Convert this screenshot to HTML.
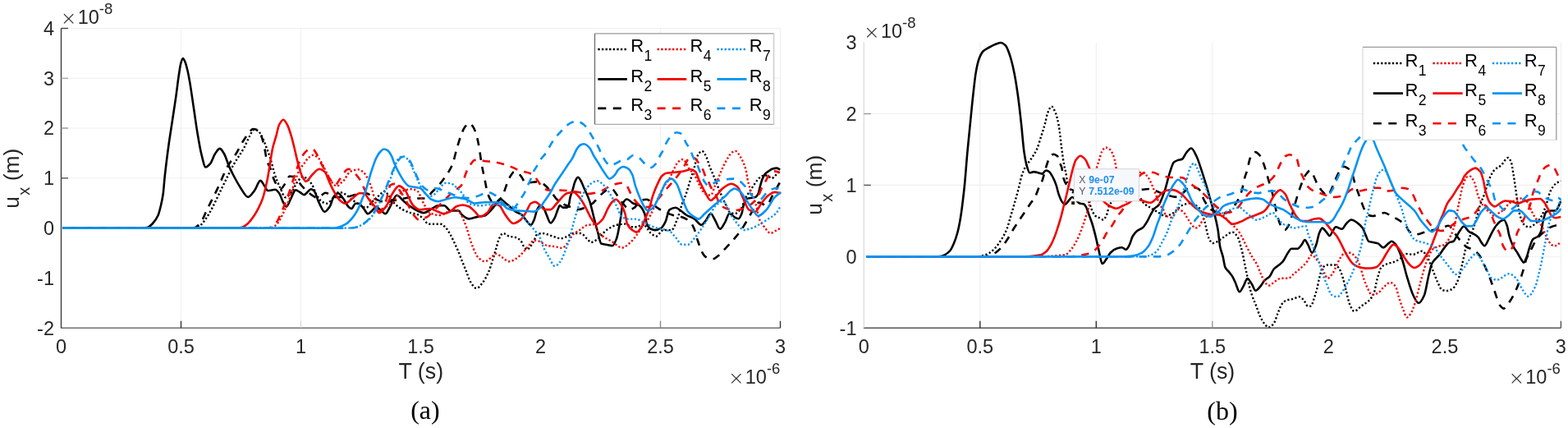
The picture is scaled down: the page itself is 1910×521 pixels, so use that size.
<!DOCTYPE html>
<html><head><meta charset="utf-8"><title>Figure</title>
<style>html,body{margin:0;padding:0;background:#fff;}svg{display:block;}</style>
</head><body>
<svg width="1910" height="521" viewBox="0 0 1910 521">
<rect width="1910" height="521" fill="#fff"/>
<line x1="220.5" y1="34.5" x2="220.5" y2="399.2" stroke="#efefef" stroke-width="1.1"/>
<line x1="366.5" y1="34.5" x2="366.5" y2="399.2" stroke="#efefef" stroke-width="1.1"/>
<line x1="804.5" y1="34.5" x2="804.5" y2="399.2" stroke="#efefef" stroke-width="1.1"/>
<line x1="950.5" y1="34.5" x2="950.5" y2="399.2" stroke="#efefef" stroke-width="1.1"/>
<line x1="74.5" y1="34.5" x2="950.5" y2="34.5" stroke="#efefef" stroke-width="1.1"/>
<line x1="74.5" y1="95.3" x2="950.5" y2="95.3" stroke="#efefef" stroke-width="1.1"/>
<line x1="74.5" y1="156.0" x2="950.5" y2="156.0" stroke="#efefef" stroke-width="1.1"/>
<line x1="74.5" y1="216.8" x2="950.5" y2="216.8" stroke="#efefef" stroke-width="1.1"/>
<line x1="74.5" y1="277.6" x2="950.5" y2="277.6" stroke="#efefef" stroke-width="1.1"/>
<path d="M76.50 277.60 C130.00 277.60 183.50 277.60 237.00 277.60 C238.33 277.60 239.67 277.22 241.00 276.80 C243.33 276.07 245.67 272.75 248.00 270.00 C250.27 267.32 252.53 263.61 254.80 259.80 C259.80 251.39 264.80 239.87 269.80 229.90 C274.80 219.93 279.80 208.89 284.80 200.00 C288.93 192.65 293.07 187.57 297.20 180.00 C299.47 175.85 301.73 170.06 304.00 166.00 C305.67 163.02 307.33 158.00 309.00 158.00 C310.67 158.00 312.33 158.42 314.00 159.00 C315.67 159.58 317.33 163.05 319.00 166.00 C320.90 169.37 322.80 175.00 324.70 180.00 C326.47 184.65 328.23 189.32 330.00 195.00 C331.57 200.04 333.13 207.71 334.70 212.40 C336.93 219.08 339.17 224.23 341.40 228.90 C343.47 233.22 345.53 240.20 347.60 240.20 C350.13 240.20 352.67 236.81 355.20 233.90 C357.30 231.49 359.40 225.32 361.50 222.60 C364.00 219.36 366.50 215.10 369.00 215.10 C370.67 215.10 372.33 216.44 374.00 217.60 C376.10 219.06 378.20 221.79 380.30 225.10 C381.97 227.73 383.63 233.50 385.30 236.40 C387.40 240.06 389.50 243.90 391.60 245.20 C393.70 246.50 395.80 247.70 397.90 247.70 C400.40 247.70 402.90 243.76 405.40 241.50 C407.93 239.21 410.47 233.90 413.00 233.90 C415.50 233.90 418.00 235.21 420.50 236.40 C422.60 237.40 424.70 239.91 426.80 241.50 C429.87 243.82 432.93 246.21 436.00 248.00 C439.23 249.88 442.47 252.80 445.70 252.80 C448.47 252.80 451.23 247.56 454.00 245.00 C456.67 242.53 459.33 239.96 462.00 237.70 C464.10 235.92 466.20 232.70 468.30 232.70 C469.97 232.70 471.63 235.79 473.30 237.70 C475.70 240.45 478.10 245.25 480.50 247.60 C483.87 250.90 487.23 253.27 490.60 255.10 C493.53 256.69 496.47 257.97 499.40 258.90 C502.73 259.96 506.07 260.08 509.40 261.40 C511.50 262.23 513.60 264.54 515.70 266.40 C517.80 268.26 519.90 272.70 522.00 272.70 C524.93 272.70 527.87 272.70 530.80 272.70 C532.90 272.70 535.00 272.70 537.10 272.70 C539.20 272.70 541.30 275.48 543.40 277.70 C545.07 279.46 546.73 282.42 548.40 285.30 C550.07 288.18 551.73 291.78 553.40 295.30 C554.87 298.39 556.33 301.65 557.80 305.10 C559.47 309.02 561.13 313.46 562.80 317.60 C564.50 321.82 566.20 325.96 567.90 330.20 C569.57 334.36 571.23 340.21 572.90 342.80 C575.40 346.68 577.90 350.90 580.40 350.90 C582.93 350.90 585.47 347.08 588.00 344.00 C590.50 340.96 593.00 336.01 595.50 330.20 C597.17 326.33 598.83 320.36 600.50 315.10 C601.77 311.10 603.03 306.79 604.30 302.60 C605.53 298.52 606.77 292.63 608.00 290.30 C609.63 287.21 611.27 284.00 612.90 284.00 C615.40 284.00 617.90 287.20 620.40 287.80 C622.93 288.41 625.47 288.35 628.00 289.00 C630.07 289.53 632.13 290.83 634.20 292.80 C635.53 294.07 636.87 298.41 638.20 300.10 C639.47 301.70 640.73 303.80 642.00 303.80 C643.67 303.80 645.33 300.90 647.00 298.80 C648.27 297.20 649.53 295.12 650.80 292.50 C651.57 290.92 652.33 287.03 653.10 286.50 C655.60 284.79 658.10 284.00 660.60 284.00 C664.37 284.00 668.13 286.05 671.90 287.10 C675.70 288.15 679.50 290.30 683.30 290.30 C685.80 290.30 688.30 288.81 690.80 287.80 C693.30 286.79 695.80 284.00 698.30 284.00 C701.23 284.00 704.17 284.00 707.10 284.00 C710.03 284.00 712.97 289.00 715.90 291.50 C717.27 292.67 718.63 295.00 720.00 295.00 C722.50 295.00 725.00 292.98 727.50 291.40 C731.27 289.01 735.03 282.63 738.80 280.10 C743.00 277.28 747.20 274.59 751.40 273.80 C754.77 273.17 758.13 272.60 761.50 272.60 C764.43 272.60 767.37 276.30 770.30 276.30 C772.37 276.30 774.43 276.30 776.50 276.30 C778.60 276.30 780.70 272.60 782.80 272.60 C786.17 272.60 789.53 281.37 792.90 283.90 C795.00 285.48 797.10 287.60 799.20 287.60 C802.13 287.60 805.07 280.10 808.00 280.10 C811.33 280.10 814.67 280.10 818.00 280.10 C820.53 280.10 823.07 271.31 825.60 265.00 C827.27 260.85 828.93 253.70 830.60 249.00 C832.27 244.30 833.93 241.14 835.60 236.40 C837.27 231.66 838.93 225.27 840.60 220.10 C841.87 216.17 843.13 212.77 844.40 208.80 C846.50 202.22 848.60 190.49 850.70 187.70 C852.17 185.75 853.63 183.90 855.10 183.90 C856.57 183.90 858.03 186.63 859.50 189.00 C861.17 191.70 862.83 198.56 864.50 202.80 C866.60 208.15 868.70 212.43 870.80 217.60 C872.90 222.77 875.00 228.92 877.10 233.90 C879.20 238.88 881.30 243.29 883.40 247.70 C885.07 251.20 886.73 256.81 888.40 257.80 C890.60 259.10 892.80 260.00 895.00 260.00 C897.83 260.00 900.67 256.78 903.50 252.80 C904.67 251.16 905.83 245.47 907.00 243.00 C908.13 240.60 909.27 239.01 910.40 237.20 C911.67 235.18 912.93 233.42 914.20 231.50 C915.47 229.58 916.73 227.55 918.00 225.70 C919.60 223.36 921.20 220.83 922.80 219.00 C924.10 217.52 925.40 215.97 926.70 215.20 C928.30 214.25 929.90 213.20 931.50 213.20 C932.77 213.20 934.03 213.74 935.30 214.20 C936.90 214.78 938.50 217.10 940.10 217.10 C941.07 217.10 942.03 215.97 943.00 215.20 C943.97 214.43 944.93 213.28 945.90 212.30 C947.17 211.02 948.43 209.70 949.70 208.40" fill="none" stroke="#000000" stroke-width="2.4" stroke-dasharray="2.2 2.5" stroke-linejoin="round"/>
<path d="M76.50 277.60 C109.33 277.60 142.17 277.60 175.00 277.60 C176.67 277.60 178.33 277.24 180.00 276.80 C182.00 276.28 184.00 274.07 186.00 272.00 C188.17 269.75 190.33 267.03 192.50 262.30 C193.67 259.75 194.83 254.93 196.00 250.00 C196.90 246.20 197.80 242.35 198.70 236.00 C199.37 231.29 200.03 221.20 200.70 215.00 C202.23 200.75 203.77 189.01 205.30 177.80 C206.83 166.59 208.37 157.33 209.90 147.10 C211.43 136.87 212.97 127.31 214.50 116.40 C215.53 109.05 216.57 99.84 217.60 93.00 C218.50 87.04 219.40 80.06 220.30 77.00 C221.13 74.17 221.97 71.00 222.80 71.00 C223.70 71.00 224.60 73.48 225.50 75.50 C226.50 77.74 227.50 81.81 228.50 86.00 C229.47 90.05 230.43 95.50 231.40 101.10 C232.93 109.99 234.47 121.57 236.00 131.80 C237.53 142.03 239.07 153.42 240.60 162.50 C242.13 171.58 243.67 180.94 245.20 187.00 C246.97 193.99 248.73 203.50 250.50 203.50 C252.33 203.50 254.17 201.32 256.00 199.30 C258.03 197.06 260.07 189.86 262.10 187.00 C263.97 184.37 265.83 180.90 267.70 180.90 C269.43 180.90 271.17 184.25 272.90 187.00 C274.93 190.23 276.97 197.82 279.00 202.40 C281.07 207.06 283.13 211.11 285.20 215.00 C287.57 219.45 289.93 223.90 292.30 227.40 C295.60 232.28 298.90 239.90 302.20 239.90 C304.80 239.90 307.40 235.30 310.00 232.00 C312.40 228.96 314.80 219.90 317.20 219.90 C318.80 219.90 320.40 223.87 322.00 226.00 C323.43 227.91 324.87 232.00 326.30 232.00 C329.23 232.00 332.17 230.80 335.10 230.80 C336.77 230.80 338.43 233.09 340.10 235.20 C341.77 237.31 343.43 243.76 345.10 246.50 C346.37 248.58 347.63 251.50 348.90 251.50 C350.57 251.50 352.23 245.66 353.90 242.70 C356.00 238.97 358.10 231.40 360.20 231.40 C361.87 231.40 363.53 232.97 365.20 233.90 C366.90 234.85 368.60 237.10 370.30 237.10 C373.23 237.10 376.17 230.20 379.10 230.20 C380.33 230.20 381.57 231.43 382.80 232.70 C384.50 234.45 386.20 241.77 387.90 245.20 C390.40 250.24 392.90 257.80 395.40 257.80 C397.50 257.80 399.60 254.55 401.70 251.50 C403.37 249.08 405.03 240.94 406.70 239.00 C408.37 237.06 410.03 235.20 411.70 235.20 C413.80 235.20 415.90 238.92 418.00 241.50 C420.10 244.08 422.20 249.61 424.30 251.50 C425.57 252.64 426.83 254.00 428.10 254.00 C429.77 254.00 431.43 247.70 433.10 247.70 C434.37 247.70 435.63 247.70 436.90 247.70 C438.97 247.70 441.03 251.69 443.10 254.00 C444.80 255.90 446.50 260.30 448.20 260.30 C449.87 260.30 451.53 257.90 453.20 256.50 C454.80 255.16 456.40 252.00 458.00 252.00 C460.17 252.00 462.33 254.93 464.50 256.50 C466.17 257.71 467.83 260.30 469.50 260.30 C471.20 260.30 472.90 255.47 474.60 252.80 C477.53 248.19 480.47 237.70 483.40 237.70 C485.90 237.70 488.40 241.90 490.90 244.00 C493.40 246.10 495.90 248.51 498.40 250.30 C501.77 252.71 505.13 255.03 508.50 256.50 C511.00 257.59 513.50 259.10 516.00 259.10 C519.37 259.10 522.73 255.68 526.10 254.00 C528.60 252.75 531.10 250.30 533.60 250.30 C536.13 250.30 538.67 250.30 541.20 250.30 C543.70 250.30 546.20 256.50 548.70 256.50 C552.07 256.50 555.43 256.50 558.80 256.50 C560.07 256.50 561.33 260.35 562.60 261.40 C565.53 263.84 568.47 266.40 571.40 266.40 C574.77 266.40 578.13 264.52 581.50 263.90 C584.43 263.36 587.37 263.36 590.30 262.60 C592.37 262.06 594.43 259.59 596.50 257.60 C598.60 255.58 600.70 252.62 602.80 250.10 C604.90 247.58 607.00 242.50 609.10 242.50 C612.03 242.50 614.97 246.50 617.90 248.80 C621.27 251.44 624.63 255.47 628.00 257.60 C630.50 259.18 633.00 259.55 635.50 261.40 C637.17 262.63 638.83 265.75 640.50 267.60 C642.60 269.93 644.70 273.90 646.80 273.90 C648.07 273.90 649.33 270.39 650.60 267.60 C651.87 264.81 653.13 257.52 654.40 255.10 C655.63 252.74 656.87 250.10 658.10 250.10 C659.37 250.10 660.63 251.30 661.90 252.60 C663.17 253.90 664.43 258.67 665.70 261.40 C667.37 264.99 669.03 271.40 670.70 271.40 C672.37 271.40 674.03 267.99 675.70 265.10 C676.97 262.91 678.23 257.95 679.50 255.10 C680.33 253.22 681.17 250.10 682.00 250.10 C683.27 250.10 684.53 252.60 685.80 252.60 C687.47 252.60 689.13 252.60 690.80 252.60 C691.43 252.60 692.07 251.44 692.70 250.10 C693.33 248.76 693.97 242.42 694.60 240.00 C695.43 236.82 696.27 235.32 697.10 232.70 C698.23 229.13 699.37 223.36 700.50 221.00 C701.67 218.57 702.83 215.80 704.00 215.80 C705.17 215.80 706.33 218.17 707.50 220.00 C708.63 221.78 709.77 225.09 710.90 227.70 C713.40 233.45 715.90 237.87 718.40 245.30 C720.10 250.35 721.80 258.59 723.50 265.10 C725.17 271.48 726.83 278.16 728.50 284.00 C729.77 288.44 731.03 295.96 732.30 296.50 C734.37 297.38 736.43 297.41 738.50 297.80 C741.03 298.28 743.57 299.10 746.10 299.10 C747.77 299.10 749.43 294.65 751.10 290.30 C752.77 285.95 754.43 274.88 756.10 265.10 C756.97 260.01 757.83 249.14 758.70 247.50 C760.37 244.35 762.03 242.50 763.70 242.50 C766.20 242.50 768.70 246.37 771.20 247.50 C773.73 248.65 776.27 248.65 778.80 250.10 C780.97 251.34 783.13 254.80 785.30 260.30 C786.17 262.50 787.03 270.79 787.90 272.60 C789.57 276.09 791.23 278.08 792.90 278.80 C794.57 279.52 796.23 280.10 797.90 280.10 C800.40 280.10 802.90 279.02 805.40 277.60 C807.10 276.64 808.80 273.44 810.50 270.10 C812.17 266.82 813.83 256.35 815.50 255.30 C818.00 253.72 820.50 252.80 823.00 252.80 C825.10 252.80 827.20 255.08 829.30 256.50 C831.40 257.92 833.50 260.23 835.60 261.50 C838.97 263.54 842.33 264.23 845.70 266.30 C848.63 268.10 851.57 273.80 854.50 273.80 C856.17 273.80 857.83 270.73 859.50 268.80 C861.60 266.37 863.70 260.00 865.80 260.00 C867.47 260.00 869.13 264.79 870.80 267.50 C872.90 270.92 875.00 278.80 877.10 278.80 C879.20 278.80 881.30 273.57 883.40 270.10 C885.07 267.35 886.73 260.00 888.40 260.00 C890.90 260.00 893.40 263.91 895.90 265.00 C897.17 265.55 898.43 266.30 899.70 266.30 C900.97 266.30 902.23 263.15 903.50 260.00 C904.33 257.93 905.17 251.38 906.00 249.00 C907.13 245.76 908.27 242.45 909.40 242.00 C911.00 241.37 912.60 241.29 914.20 241.00 C916.13 240.65 918.07 240.67 920.00 240.10 C921.27 239.73 922.53 237.89 923.80 235.30 C924.43 234.00 925.07 229.92 925.70 227.60 C926.67 224.05 927.63 220.38 928.60 218.00 C929.57 215.62 930.53 213.45 931.50 212.30 C933.10 210.40 934.70 209.50 936.30 208.40 C937.87 207.32 939.43 206.08 941.00 205.60 C942.63 205.10 944.27 204.60 945.90 204.60 C947.33 204.60 948.77 205.87 950.20 206.50" fill="none" stroke="#000000" stroke-width="2.6" stroke-linejoin="round"/>
<path d="M76.50 277.60 C128.67 277.60 180.83 277.60 233.00 277.60 C234.47 277.60 235.93 277.33 237.40 277.00 C239.93 276.44 242.47 273.24 245.00 270.00 C247.43 266.89 249.87 259.86 252.30 254.90 C256.47 246.41 260.63 238.62 264.80 229.90 C268.97 221.18 273.13 209.87 277.30 202.50 C280.63 196.60 283.97 192.94 287.30 187.50 C290.20 182.77 293.10 176.58 296.00 172.00 C298.33 168.31 300.67 164.72 303.00 162.00 C304.67 160.06 306.33 157.00 308.00 157.00 C309.67 157.00 311.33 157.42 313.00 158.00 C314.67 158.58 316.33 161.60 318.00 165.00 C319.40 167.85 320.80 173.92 322.20 180.00 C323.13 184.05 324.07 191.86 325.00 195.00 C326.57 200.28 328.13 201.77 329.70 206.00 C330.97 209.42 332.23 214.98 333.50 218.00 C334.90 221.34 336.30 224.25 337.70 226.00 C339.13 227.79 340.57 230.00 342.00 230.00 C343.67 230.00 345.33 226.27 347.00 224.00 C349.00 221.28 351.00 214.50 353.00 214.50 C354.33 214.50 355.67 214.72 357.00 215.00 C358.23 215.26 359.47 216.37 360.70 217.40 C362.93 219.27 365.17 223.49 367.40 226.00 C369.67 228.55 371.93 230.75 374.20 232.80 C376.13 234.55 378.07 236.38 380.00 237.60 C381.90 238.80 383.80 240.50 385.70 240.50 C387.13 240.50 388.57 239.65 390.00 239.00 C392.07 238.06 394.13 234.70 396.20 234.70 C398.47 234.70 400.73 236.48 403.00 237.60 C404.33 238.26 405.67 239.88 407.00 239.90 C411.33 239.98 415.67 240.00 420.00 240.00 C424.33 240.00 428.67 237.76 433.00 237.00 C437.23 236.26 441.47 235.20 445.70 235.20 C449.87 235.20 454.03 241.12 458.20 242.70 C462.13 244.20 466.07 246.00 470.00 246.00 C475.00 246.00 480.00 243.94 485.00 243.00 C490.30 242.01 495.60 240.20 500.90 240.20 C502.60 240.20 504.30 241.50 506.00 241.50 C510.17 241.50 514.33 241.50 518.50 241.50 C521.00 241.50 523.50 236.50 526.00 234.00 C528.53 231.47 531.07 229.24 533.60 226.40 C536.53 223.11 539.47 219.41 542.40 215.10 C545.33 210.79 548.27 207.06 551.20 200.00 C552.90 195.91 554.60 187.28 556.30 181.50 C558.00 175.72 559.70 169.64 561.40 165.20 C562.93 161.20 564.47 157.00 566.00 155.00 C567.80 152.66 569.60 150.10 571.40 150.10 C572.93 150.10 574.47 152.07 576.00 154.00 C577.40 155.76 578.80 159.50 580.20 163.90 C581.47 167.88 582.73 174.37 584.00 181.50 C584.83 186.19 585.67 193.94 586.50 198.80 C587.77 206.19 589.03 211.46 590.30 217.60 C591.53 223.58 592.77 231.47 594.00 235.20 C595.33 239.23 596.67 242.09 598.00 244.00 C599.60 246.29 601.20 249.00 602.80 249.00 C604.53 249.00 606.27 246.05 608.00 244.00 C609.63 242.07 611.27 239.71 612.90 236.50 C614.57 233.22 616.23 226.68 617.90 222.70 C619.27 219.44 620.63 216.00 622.00 214.00 C623.57 211.70 625.13 208.80 626.70 208.80 C627.97 208.80 629.23 209.45 630.50 210.10 C632.00 210.87 633.50 213.17 635.00 215.00 C636.83 217.24 638.67 222.70 640.50 222.70 C642.67 222.70 644.83 222.22 647.00 222.00 C649.03 221.79 651.07 221.40 653.10 221.40 C655.20 221.40 657.30 222.04 659.40 222.70 C663.17 223.89 666.93 228.67 670.70 232.70 C673.20 235.37 675.70 240.05 678.20 242.50 C680.30 244.56 682.40 246.30 684.50 247.50 C688.00 249.50 691.50 250.77 695.00 252.00 C698.33 253.17 701.67 255.00 705.00 255.00 C707.33 255.00 709.67 253.84 712.00 253.00 C714.67 252.04 717.33 250.73 720.00 249.00 C724.20 246.27 728.40 239.90 732.60 236.40 C735.07 234.35 737.53 231.68 740.00 231.00 C741.70 230.53 743.40 230.10 745.10 230.10 C747.40 230.10 749.70 235.13 752.00 238.00 C754.67 241.32 757.33 245.99 760.00 249.00 C762.17 251.45 764.33 255.30 766.50 255.30 C768.60 255.30 770.70 254.03 772.80 252.80 C775.30 251.34 777.80 244.75 780.30 244.00 C782.83 243.24 785.37 242.70 787.90 242.70 C789.93 242.70 791.97 245.39 794.00 247.00 C796.13 248.69 798.27 251.33 800.40 252.80 C803.60 255.01 806.80 256.53 810.00 258.00 C813.33 259.54 816.67 261.11 820.00 262.00 C823.33 262.89 826.67 263.02 830.00 264.00 C833.53 265.04 837.07 266.80 840.60 270.00 C842.30 271.54 844.00 274.84 845.70 278.80 C846.93 281.67 848.17 287.72 849.40 291.40 C851.50 297.67 853.60 303.99 855.70 307.80 C856.53 309.31 857.37 310.73 858.20 311.50 C859.80 312.97 861.40 314.11 863.00 314.50 C864.77 314.93 866.53 315.30 868.30 315.30 C870.40 315.30 872.50 313.06 874.60 311.50 C877.53 309.32 880.47 305.77 883.40 302.70 C887.57 298.34 891.73 294.01 895.90 288.90 C899.27 284.77 902.63 280.29 906.00 275.10 C907.23 273.20 908.47 270.91 909.70 268.80 C911.80 265.21 913.90 261.14 916.00 258.00 C918.93 253.62 921.87 246.50 924.80 246.50 C927.73 246.50 930.67 250.20 933.60 250.20 C936.07 250.20 938.53 242.21 941.00 238.00 C944.00 232.87 947.00 227.33 950.00 222.00" fill="none" stroke="#000000" stroke-width="2.6" stroke-dasharray="9.3 8.2" stroke-linejoin="round"/>
<path d="M76.50 277.60 C160.00 277.60 243.50 277.60 327.00 277.60 C328.33 277.60 329.67 277.31 331.00 277.00 C333.33 276.45 335.67 274.39 338.00 272.00 C340.37 269.58 342.73 263.91 345.10 259.10 C347.63 253.95 350.17 248.33 352.70 241.50 C354.80 235.84 356.90 227.20 359.00 221.40 C361.07 215.69 363.13 209.91 365.20 206.30 C366.97 203.21 368.73 201.39 370.50 199.00 C372.10 196.83 373.70 193.95 375.30 192.60 C377.40 190.83 379.50 188.80 381.60 188.80 C383.70 188.80 385.80 190.76 387.90 192.60 C390.40 194.79 392.90 200.62 395.40 205.20 C397.90 209.78 400.40 217.39 402.90 220.30 C405.43 223.24 407.97 226.50 410.50 226.50 C412.17 226.50 413.83 224.03 415.50 222.60 C417.17 221.17 418.83 220.08 420.50 217.80 C421.33 216.66 422.17 213.61 423.00 212.60 C425.10 210.06 427.20 208.30 429.30 207.70 C431.83 206.98 434.37 206.40 436.90 206.40 C438.97 206.40 441.03 208.38 443.10 210.20 C444.80 211.70 446.50 214.60 448.20 217.80 C449.80 220.81 451.40 225.12 453.00 230.00 C454.33 234.06 455.67 240.91 457.00 245.00 C458.67 250.11 460.33 257.80 462.00 257.80 C464.67 257.80 467.33 253.76 470.00 252.00 C472.37 250.44 474.73 249.61 477.10 247.70 C479.73 245.58 482.37 240.53 485.00 238.00 C487.80 235.31 490.60 232.14 493.40 231.40 C495.90 230.74 498.40 230.20 500.90 230.20 C503.43 230.20 505.97 231.27 508.50 232.70 C511.00 234.11 513.50 243.41 516.00 247.70 C518.53 252.04 521.07 257.94 523.60 259.10 C527.40 260.84 531.20 262.00 535.00 262.00 C539.33 262.00 543.67 258.29 548.00 257.00 C550.67 256.21 553.33 255.00 556.00 255.00 C557.67 255.00 559.33 257.79 561.00 260.10 C562.23 261.81 563.47 264.86 564.70 267.70 C565.97 270.62 567.23 273.98 568.50 277.70 C569.77 281.42 571.03 286.45 572.30 290.30 C573.77 294.76 575.23 299.32 576.70 302.60 C578.77 307.22 580.83 312.05 582.90 313.90 C585.43 316.17 587.97 318.30 590.50 318.30 C593.00 318.30 595.50 315.61 598.00 313.90 C600.10 312.46 602.20 308.80 604.30 308.80 C606.40 308.80 608.50 311.37 610.60 312.60 C613.93 314.56 617.27 318.30 620.60 318.30 C623.13 318.30 625.67 316.52 628.20 315.10 C630.70 313.70 633.20 311.22 635.70 308.80 C638.23 306.35 640.77 302.82 643.30 300.10 C645.80 297.41 648.30 292.50 650.80 292.50 C652.90 292.50 655.00 293.18 657.10 293.80 C660.03 294.67 662.97 298.17 665.90 298.80 C669.23 299.51 672.57 299.57 675.90 300.10 C678.83 300.57 681.77 301.90 684.70 301.90 C686.80 301.90 688.90 298.64 691.00 296.30 C693.43 293.59 695.87 287.44 698.30 285.20 C700.83 282.87 703.37 281.83 705.90 280.20 C709.23 278.05 712.57 274.35 715.90 273.90 C718.43 273.56 720.97 273.30 723.50 273.30 C725.17 273.30 726.83 279.80 728.50 282.00 C729.87 283.80 731.23 285.30 732.60 286.40 C736.77 289.77 740.93 291.39 745.10 293.90 C749.30 296.43 753.50 301.50 757.70 301.50 C761.07 301.50 764.43 297.98 767.80 295.20 C770.30 293.13 772.80 289.70 775.30 286.40 C777.80 283.10 780.30 278.57 782.80 275.10 C785.33 271.58 787.87 269.32 790.40 265.30 C793.60 260.22 796.80 251.78 800.00 245.00 C802.67 239.35 805.33 232.47 808.00 228.00 C810.50 223.81 813.00 221.93 815.50 217.60 C817.17 214.71 818.83 209.60 820.50 206.50 C822.60 202.59 824.70 198.07 826.80 196.50 C828.47 195.26 830.13 194.00 831.80 194.00 C833.50 194.00 835.20 197.63 836.90 200.30 C837.73 201.61 838.57 204.04 839.40 205.30 C841.50 208.48 843.60 209.40 845.70 212.50 C847.37 214.96 849.03 219.52 850.70 222.60 C853.20 227.21 855.70 233.82 858.20 235.20 C860.73 236.60 863.27 237.70 865.80 237.70 C867.47 237.70 869.13 230.17 870.80 226.40 C872.47 222.63 874.13 219.10 875.80 215.10 C876.87 212.54 877.93 209.46 879.00 207.00 C880.47 203.62 881.93 200.35 883.40 197.80 C886.33 192.71 889.27 186.73 892.20 185.20 C893.43 184.56 894.67 183.90 895.90 183.90 C898.00 183.90 900.10 188.14 902.20 191.50 C904.30 194.86 906.40 199.13 908.50 206.50 C909.33 209.42 910.17 216.61 911.00 220.10 C912.67 227.09 914.33 231.51 916.00 236.40 C917.70 241.39 919.40 244.28 921.10 250.00 C922.33 254.15 923.57 263.30 924.80 266.30 C926.90 271.41 929.00 273.69 931.10 276.30 C933.60 279.41 936.10 283.90 938.60 283.90 C941.13 283.90 943.67 281.37 946.20 280.10 C947.87 279.27 949.53 278.43 951.20 277.60" fill="none" stroke="#f20000" stroke-width="2.4" stroke-dasharray="2.2 2.5" stroke-linejoin="round"/>
<path d="M76.50 277.60 C147.67 277.60 218.83 277.60 290.00 277.60 C291.60 277.60 293.20 277.21 294.80 276.80 C297.20 276.18 299.60 274.09 302.00 272.00 C304.57 269.77 307.13 266.10 309.70 262.30 C311.47 259.68 313.23 256.50 315.00 253.00 C316.57 249.90 318.13 246.87 319.70 242.40 C321.77 236.50 323.83 227.32 325.90 217.40 C328.00 207.32 330.10 189.04 332.20 180.00 C333.63 173.83 335.07 170.26 336.50 165.10 C337.67 160.90 338.83 154.24 340.00 152.00 C341.70 148.74 343.40 145.70 345.10 145.70 C346.73 145.70 348.37 149.11 350.00 152.00 C351.80 155.18 353.60 161.50 355.40 167.60 C356.60 171.67 357.80 177.07 359.00 182.00 C360.23 187.06 361.47 193.07 362.70 197.60 C364.40 203.85 366.10 210.72 367.80 214.00 C369.47 217.21 371.13 220.90 372.80 220.90 C375.30 220.90 377.80 214.99 380.30 212.70 C383.23 210.01 386.17 205.80 389.10 205.80 C391.20 205.80 393.30 207.27 395.40 209.00 C397.50 210.73 399.60 218.45 401.70 222.80 C403.80 227.15 405.90 231.74 408.00 235.20 C410.07 238.61 412.13 242.28 414.20 244.00 C416.30 245.75 418.40 247.70 420.50 247.70 C423.43 247.70 426.37 243.58 429.30 241.50 C432.23 239.42 435.17 235.20 438.10 235.20 C439.77 235.20 441.43 235.20 443.10 235.20 C445.20 235.20 447.30 240.18 449.40 242.70 C451.50 245.22 453.60 247.58 455.70 250.30 C457.80 253.02 459.90 259.10 462.00 259.10 C464.93 259.10 467.87 254.26 470.80 250.30 C473.30 246.93 475.80 238.88 478.30 235.20 C480.83 231.47 483.37 226.40 485.90 226.40 C488.40 226.40 490.90 228.81 493.40 231.40 C495.07 233.13 496.73 238.40 498.40 241.50 C500.10 244.66 501.80 248.62 503.50 250.30 C506.00 252.77 508.50 255.30 511.00 255.30 C515.20 255.30 519.40 254.00 523.60 254.00 C526.93 254.00 530.27 256.65 533.60 257.80 C536.00 258.63 538.40 260.10 540.80 260.10 C543.33 260.10 545.87 258.80 548.40 257.60 C550.90 256.42 553.40 252.22 555.90 251.30 C558.43 250.36 560.97 249.50 563.50 249.50 C566.00 249.50 568.50 250.37 571.00 251.30 C573.50 252.23 576.00 255.31 578.50 257.60 C580.60 259.52 582.70 263.90 584.80 263.90 C587.73 263.90 590.67 261.26 593.60 258.90 C596.13 256.86 598.67 248.80 601.20 248.80 C603.43 248.80 605.67 249.34 607.90 250.10 C610.40 250.95 612.90 258.26 615.40 261.40 C618.73 265.58 622.07 272.00 625.40 272.00 C628.33 272.00 631.27 269.82 634.20 267.60 C636.30 266.01 638.40 262.10 640.50 258.80 C642.60 255.50 644.70 248.73 646.80 247.50 C648.47 246.53 650.13 245.70 651.80 245.70 C653.90 245.70 656.00 248.36 658.10 250.10 C659.77 251.48 661.43 255.10 663.10 255.10 C665.63 255.10 668.17 255.10 670.70 255.10 C673.20 255.10 675.70 249.99 678.20 247.50 C682.40 243.32 686.60 236.29 690.80 235.20 C693.30 234.55 695.80 234.00 698.30 234.00 C700.83 234.00 703.37 237.51 705.90 240.30 C708.40 243.06 710.90 248.10 713.40 252.60 C715.50 256.38 717.60 261.80 719.70 265.10 C721.80 268.40 723.90 273.30 726.00 273.30 C728.50 273.30 731.00 270.34 733.50 267.60 C736.03 264.82 738.57 256.90 741.10 252.60 C742.43 250.34 743.77 247.85 745.10 246.50 C746.80 244.77 748.50 242.70 750.20 242.70 C752.27 242.70 754.33 246.09 756.40 249.00 C758.10 251.40 759.80 254.87 761.50 260.30 C762.33 262.96 763.17 270.85 764.00 272.60 C766.10 277.01 768.20 278.64 770.30 280.10 C771.97 281.26 773.63 282.60 775.30 282.60 C777.40 282.60 779.50 279.37 781.60 276.30 C782.83 274.50 784.07 270.44 785.30 267.50 C787.00 263.45 788.70 260.15 790.40 255.30 C792.07 250.55 793.73 242.60 795.40 237.70 C797.07 232.80 798.73 228.62 800.40 225.10 C802.50 220.67 804.60 215.70 806.70 213.80 C808.37 212.29 810.03 210.95 811.70 210.70 C814.63 210.25 817.57 210.28 820.50 210.00 C823.87 209.68 827.23 209.32 830.60 208.80 C834.37 208.22 838.13 206.30 841.90 206.30 C843.57 206.30 845.23 207.44 846.90 208.80 C848.57 210.16 850.23 216.57 851.90 220.10 C854.00 224.55 856.10 229.00 858.20 232.60 C860.73 236.95 863.27 244.00 865.80 244.00 C867.47 244.00 869.13 241.68 870.80 240.20 C874.13 237.24 877.47 231.23 880.80 228.90 C884.17 226.55 887.53 223.80 890.90 223.80 C893.40 223.80 895.90 225.54 898.40 227.60 C900.50 229.33 902.60 236.01 904.70 240.20 C907.23 245.25 909.77 253.86 912.30 255.30 C914.80 256.72 917.30 257.80 919.80 257.80 C922.30 257.80 924.80 250.79 927.30 247.70 C930.23 244.08 933.17 239.72 936.10 237.70 C938.63 235.96 941.17 233.90 943.70 233.90 C946.20 233.90 948.70 234.77 951.20 235.20" fill="none" stroke="#f20000" stroke-width="2.6" stroke-linejoin="round"/>
<path d="M76.50 277.60 C159.33 277.60 242.17 277.60 325.00 277.60 C326.33 277.60 327.67 277.31 329.00 277.00 C331.33 276.45 333.67 274.46 336.00 272.00 C338.33 269.54 340.67 263.21 343.00 258.00 C346.00 251.30 349.00 243.45 352.00 235.00 C354.67 227.49 357.33 217.51 360.00 210.00 C362.33 203.43 364.67 196.06 367.00 192.00 C369.00 188.52 371.00 185.64 373.00 184.00 C374.67 182.64 376.33 181.00 378.00 181.00 C379.20 181.00 380.40 181.40 381.60 181.90 C383.07 182.51 384.53 185.43 386.00 188.00 C387.03 189.81 388.07 192.99 389.10 195.10 C391.20 199.38 393.30 202.67 395.40 206.40 C397.60 210.31 399.80 214.85 402.00 218.00 C404.00 220.87 406.00 225.30 408.00 225.30 C410.07 225.30 412.13 220.68 414.20 217.80 C415.80 215.57 417.40 211.71 419.00 210.00 C420.77 208.11 422.53 205.80 424.30 205.80 C426.20 205.80 428.10 207.61 430.00 209.00 C432.30 210.69 434.60 213.51 436.90 216.50 C437.73 217.58 438.57 218.84 439.40 220.30 C441.60 224.17 443.80 230.60 446.00 235.00 C448.83 240.67 451.67 246.62 454.50 250.30 C457.00 253.55 459.50 258.00 462.00 258.00 C464.67 258.00 467.33 251.00 470.00 245.00 C471.93 240.65 473.87 225.95 475.80 225.10 C477.47 224.37 479.13 223.90 480.80 223.90 C482.87 223.90 484.93 229.02 487.00 232.00 C489.67 235.84 492.33 240.18 495.00 245.00 C496.67 248.01 498.33 252.07 500.00 255.00 C501.90 258.34 503.80 261.97 505.70 263.90 C507.37 265.59 509.03 267.70 510.70 267.70 C512.13 267.70 513.57 266.55 515.00 266.00 C516.90 265.27 518.80 264.93 520.70 263.90 C522.40 262.98 524.10 260.56 525.80 258.90 C528.87 255.91 531.93 253.02 535.00 250.00 C538.33 246.72 541.67 243.33 545.00 240.00 C547.33 237.67 549.67 234.94 552.00 233.00 C555.13 230.39 558.27 229.91 561.40 226.40 C563.90 223.60 566.40 212.58 568.90 207.60 C570.60 204.21 572.30 201.21 574.00 199.00 C575.23 197.39 576.47 195.28 577.70 195.00 C579.37 194.63 581.03 194.40 582.70 194.40 C585.13 194.40 587.57 195.66 590.00 196.00 C593.03 196.42 596.07 196.50 599.10 196.90 C604.97 197.67 610.83 199.02 616.70 200.70 C622.13 202.26 627.57 205.67 633.00 207.60 C638.43 209.53 643.87 209.61 649.30 212.60 C651.20 213.65 653.10 217.46 655.00 220.00 C656.87 222.49 658.73 226.30 660.60 227.70 C663.13 229.60 665.67 231.50 668.20 231.50 C671.53 231.50 674.87 231.50 678.20 231.50 C682.13 231.50 686.07 231.75 690.00 232.00 C695.00 232.32 700.00 233.19 705.00 234.00 C708.33 234.54 711.67 236.00 715.00 236.00 C719.50 236.00 724.00 235.02 728.50 234.00 C733.53 232.86 738.57 228.52 743.60 226.40 C745.73 225.50 747.87 224.47 750.00 224.00 C752.87 223.37 755.73 222.70 758.60 222.70 C759.97 222.70 761.33 223.92 762.70 225.10 C764.70 226.83 766.70 232.98 768.70 236.50 C769.97 238.73 771.23 241.21 772.50 242.80 C775.00 245.93 777.50 249.15 780.00 250.00 C783.33 251.14 786.67 252.00 790.00 252.00 C793.33 252.00 796.67 247.20 800.00 244.00 C803.33 240.80 806.67 235.89 810.00 232.00 C813.50 227.92 817.00 224.26 820.50 220.10 C822.20 218.08 823.90 216.07 825.60 213.80 C828.10 210.47 830.60 206.52 833.10 202.80 C835.60 199.08 838.10 191.50 840.60 191.50 C842.40 191.50 844.20 191.91 846.00 192.50 C847.33 192.94 848.67 195.35 850.00 197.00 C851.27 198.57 852.53 200.14 853.80 202.20 C854.83 203.88 855.87 205.97 856.90 208.30 C857.93 210.63 858.97 214.52 860.00 216.50 C861.00 218.41 862.00 219.17 863.00 221.00 C864.00 222.83 865.00 226.25 866.00 228.00 C867.57 230.75 869.13 231.76 870.70 234.40 C872.83 237.99 874.97 246.84 877.10 249.00 C879.73 251.66 882.37 253.18 885.00 254.00 C888.33 255.03 891.67 256.00 895.00 256.00 C898.33 256.00 901.67 254.97 905.00 254.00 C907.67 253.23 910.33 251.67 913.00 250.00 C914.67 248.96 916.33 247.62 918.00 246.00 C919.60 244.45 921.20 242.58 922.80 240.10 C924.73 237.10 926.67 231.32 928.60 227.60 C929.87 225.16 931.13 223.15 932.40 220.90 C934.00 218.06 935.60 213.89 937.20 212.30 C939.13 210.38 941.07 208.40 943.00 208.40 C945.33 208.40 947.67 209.47 950.00 210.00" fill="none" stroke="#f20000" stroke-width="2.6" stroke-dasharray="9.3 8.2" stroke-linejoin="round"/>
<path d="M76.50 277.60 C192.67 277.60 308.83 277.60 425.00 277.60 C427.33 277.60 429.67 277.32 432.00 277.00 C434.77 276.62 437.53 275.32 440.30 274.00 C443.23 272.60 446.17 270.37 449.10 267.70 C451.20 265.79 453.30 263.18 455.40 260.10 C457.17 257.50 458.93 253.82 460.70 250.30 C462.60 246.52 464.50 241.90 466.40 238.00 C468.10 234.51 469.80 231.78 471.50 228.00 C473.17 224.30 474.83 219.55 476.50 215.20 C477.77 211.89 479.03 208.49 480.30 205.10 C481.53 201.79 482.77 196.69 484.00 195.10 C486.10 192.40 488.20 190.10 490.30 190.10 C492.40 190.10 494.50 191.91 496.60 193.80 C498.27 195.30 499.93 199.25 501.60 202.60 C502.87 205.15 504.13 208.47 505.40 211.40 C506.67 214.33 507.93 217.44 509.20 220.20 C510.43 222.88 511.67 225.67 512.90 227.80 C514.60 230.74 516.30 233.60 518.00 235.30 C519.67 236.97 521.33 239.10 523.00 239.10 C525.10 239.10 527.20 237.79 529.30 236.50 C531.40 235.21 533.50 231.08 535.60 229.00 C538.10 226.53 540.60 222.70 543.10 222.70 C545.20 222.70 547.30 223.00 549.40 223.40 C551.50 223.80 553.60 226.06 555.70 227.80 C557.37 229.18 559.03 230.94 560.70 232.80 C562.37 234.66 564.03 236.80 565.70 239.10 C567.60 241.72 569.50 247.06 571.40 247.80 C575.60 249.43 579.80 250.30 584.00 250.30 C588.17 250.30 592.33 249.10 596.50 249.10 C601.00 249.10 605.50 249.60 610.00 250.00 C616.00 250.54 622.00 250.84 628.00 252.60 C630.50 253.33 633.00 259.55 635.50 262.60 C638.87 266.71 642.23 270.04 645.60 273.90 C648.10 276.77 650.60 279.36 653.10 282.70 C654.77 284.93 656.43 287.00 658.10 290.30 C659.43 292.94 660.77 298.36 662.10 301.30 C664.20 305.93 666.30 309.15 668.40 312.60 C670.90 316.70 673.40 323.90 675.90 323.90 C678.00 323.90 680.10 321.33 682.20 318.90 C683.87 316.97 685.53 312.65 687.20 308.80 C688.90 304.87 690.60 300.30 692.30 295.00 C694.30 288.76 696.30 279.85 698.30 272.70 C700.00 266.62 701.70 260.24 703.40 255.10 C705.90 247.54 708.40 239.50 710.90 235.20 C714.27 229.41 717.63 224.66 721.00 222.70 C723.17 221.44 725.33 220.10 727.50 220.10 C730.03 220.10 732.57 222.86 735.10 225.10 C737.60 227.31 740.10 231.34 742.60 235.20 C745.13 239.12 747.67 244.16 750.20 249.00 C752.70 253.77 755.20 262.67 757.70 264.10 C760.20 265.53 762.70 266.60 765.20 266.60 C768.57 266.60 771.93 266.60 775.30 266.60 C777.80 266.60 780.30 268.91 782.80 270.10 C785.33 271.31 787.87 272.71 790.40 273.80 C793.73 275.23 797.07 276.58 800.40 277.60 C805.43 279.15 810.47 279.23 815.50 281.40 C818.00 282.48 820.50 286.22 823.00 288.90 C825.53 291.62 828.07 297.70 830.60 297.70 C833.10 297.70 835.60 297.70 838.10 297.70 C840.63 297.70 843.17 293.09 845.70 290.20 C848.20 287.35 850.70 283.66 853.20 280.10 C854.87 277.73 856.53 275.18 858.20 272.60 C860.30 269.35 862.40 265.93 864.50 262.50 C867.00 258.42 869.50 252.08 872.00 250.00 C874.93 247.56 877.87 245.20 880.80 245.20 C882.53 245.20 884.27 249.18 886.00 252.00 C887.63 254.66 889.27 259.75 890.90 262.50 C893.40 266.70 895.90 269.75 898.40 272.60 C900.93 275.49 903.47 280.10 906.00 280.10 C909.33 280.10 912.67 278.71 916.00 277.60 C919.37 276.48 922.73 274.47 926.10 272.60 C929.43 270.75 932.77 268.52 936.10 266.30 C939.07 264.32 942.03 262.97 945.00 260.00 C947.07 257.93 949.13 253.47 951.20 250.20" fill="none" stroke="#0593f3" stroke-width="2.4" stroke-dasharray="2.2 2.5" stroke-linejoin="round"/>
<path d="M76.50 277.60 C187.00 277.60 297.50 277.60 408.00 277.60 C409.57 277.60 411.13 276.96 412.70 276.50 C415.63 275.64 418.57 274.47 421.50 272.70 C424.43 270.93 427.37 267.59 430.30 263.90 C432.37 261.30 434.43 257.87 436.50 253.80 C438.20 250.45 439.90 245.43 441.60 241.30 C442.97 237.98 444.33 235.24 445.70 231.40 C447.77 225.60 449.83 216.34 451.90 210.00 C454.00 203.55 456.10 196.78 458.20 192.60 C459.80 189.42 461.40 186.62 463.00 185.00 C464.57 183.42 466.13 181.50 467.70 181.50 C469.13 181.50 470.57 182.21 472.00 183.00 C473.70 183.93 475.40 186.89 477.10 190.10 C478.17 192.11 479.23 196.28 480.30 198.80 C482.37 203.68 484.43 207.69 486.50 211.40 C488.60 215.17 490.70 218.97 492.80 221.50 C494.50 223.55 496.20 225.98 497.90 226.50 C500.40 227.27 502.90 227.35 505.40 227.80 C507.50 228.18 509.60 228.33 511.70 229.00 C513.80 229.67 515.90 233.20 518.00 235.30 C520.50 237.80 523.00 241.65 525.50 242.80 C528.20 244.04 530.90 245.20 533.60 245.20 C536.77 245.20 539.93 243.55 543.10 242.80 C546.87 241.91 550.63 240.30 554.40 240.30 C557.33 240.30 560.27 241.00 563.20 241.60 C565.70 242.11 568.20 243.02 570.70 244.00 C573.03 244.91 575.37 247.50 577.70 247.50 C581.90 247.50 586.10 246.30 590.30 246.30 C594.47 246.30 598.63 246.30 602.80 246.30 C605.33 246.30 607.87 246.83 610.40 247.50 C612.90 248.17 615.40 252.82 617.90 253.80 C621.27 255.12 624.63 255.99 628.00 256.30 C632.17 256.69 636.33 256.76 640.50 257.00 C643.87 257.19 647.23 257.60 650.60 257.60 C652.70 257.60 654.80 255.58 656.90 253.80 C658.97 252.05 661.03 247.94 663.10 245.00 C665.20 242.01 667.30 239.36 669.40 236.00 C671.60 232.48 673.80 227.61 676.00 224.00 C678.83 219.35 681.67 215.61 684.50 211.40 C686.60 208.28 688.70 205.10 690.80 202.00 C692.90 198.90 695.00 196.33 697.10 192.80 C699.20 189.27 701.30 183.12 703.40 180.30 C704.60 178.69 705.80 177.06 707.00 176.50 C708.50 175.80 710.00 175.20 711.50 175.20 C712.67 175.20 713.83 176.21 715.00 177.00 C716.13 177.76 717.27 178.87 718.40 180.30 C720.10 182.44 721.80 187.07 723.50 190.00 C724.33 191.43 725.17 192.68 726.00 194.00 C727.33 196.12 728.67 198.19 730.00 200.30 C732.10 203.62 734.20 207.49 736.30 210.30 C738.40 213.11 740.50 217.60 742.60 217.60 C744.70 217.60 746.80 215.16 748.90 213.00 C750.17 211.70 751.43 208.19 752.70 207.00 C754.80 205.03 756.90 203.00 759.00 203.00 C761.07 203.00 763.13 204.05 765.20 205.30 C766.90 206.33 768.60 209.15 770.30 212.80 C771.53 215.45 772.77 222.60 774.00 226.40 C776.10 232.88 778.20 238.02 780.30 242.70 C781.87 246.19 783.43 249.80 785.00 252.00 C786.37 253.92 787.73 256.50 789.10 256.50 C791.20 256.50 793.30 254.61 795.40 252.80 C798.73 249.93 802.07 240.39 805.40 233.90 C807.50 229.81 809.60 223.21 811.70 221.30 C813.80 219.39 815.90 217.60 818.00 217.60 C820.10 217.60 822.20 220.87 824.30 223.90 C826.40 226.93 828.50 235.02 830.60 240.20 C833.10 246.36 835.60 254.73 838.10 257.80 C840.63 260.91 843.17 262.55 845.70 264.10 C847.37 265.12 849.03 266.60 850.70 266.60 C853.20 266.60 855.70 262.46 858.20 260.30 C862.40 256.67 866.60 252.56 870.80 249.00 C875.00 245.44 879.20 242.76 883.40 238.90 C885.60 236.88 887.80 233.52 890.00 232.00 C891.57 230.92 893.13 229.50 894.70 229.50 C896.80 229.50 898.90 231.11 901.00 232.60 C903.50 234.38 906.00 239.14 908.50 242.70 C911.00 246.26 913.50 250.73 916.00 254.00 C918.53 257.32 921.07 262.80 923.60 262.80 C926.93 262.80 930.27 258.63 933.60 255.30 C936.97 251.94 940.33 243.77 943.70 240.20 C946.20 237.55 948.70 236.00 951.20 233.90" fill="none" stroke="#0593f3" stroke-width="2.6" stroke-linejoin="round"/>
<path d="M76.50 277.60 C192.33 277.60 308.17 277.60 424.00 277.60 C426.00 277.60 428.00 277.46 430.00 277.30 C433.33 277.03 436.67 275.56 440.00 274.00 C443.33 272.44 446.67 269.40 450.00 266.00 C452.00 263.96 454.00 261.09 456.00 258.00 C458.00 254.91 460.00 250.97 462.00 247.00 C464.00 243.03 466.00 238.64 468.00 234.00 C470.00 229.36 472.00 223.89 474.00 219.00 C475.67 214.92 477.33 210.64 479.00 207.00 C480.67 203.36 482.33 199.24 484.00 197.00 C486.00 194.31 488.00 191.00 490.00 191.00 C491.67 191.00 493.33 191.44 495.00 192.00 C496.67 192.56 498.33 194.63 500.00 197.00 C501.17 198.66 502.33 202.34 503.50 205.00 C504.97 208.34 506.43 211.91 507.90 215.00 C509.60 218.59 511.30 223.09 513.00 225.00 C515.90 228.26 518.80 231.50 521.70 231.50 C524.47 231.50 527.23 229.00 530.00 229.00 C533.33 229.00 536.67 230.87 540.00 232.00 C545.00 233.70 550.00 236.67 555.00 238.00 C560.00 239.33 565.00 241.00 570.00 241.00 C573.60 241.00 577.20 240.02 580.80 239.10 C582.90 238.56 585.00 237.28 587.10 236.50 C589.60 235.58 592.10 234.00 594.60 234.00 C597.53 234.00 600.47 235.99 603.40 237.80 C605.73 239.24 608.07 242.61 610.40 245.00 C612.07 246.71 613.73 249.15 615.40 250.10 C618.73 252.01 622.07 253.80 625.40 253.80 C626.60 253.80 627.80 251.50 629.00 250.00 C630.53 248.08 632.07 245.15 633.60 242.80 C635.27 240.25 636.93 238.36 638.60 235.30 C639.87 232.97 641.13 229.24 642.40 226.50 C643.63 223.83 644.87 222.04 646.10 219.00 C646.93 216.95 647.77 213.29 648.60 211.40 C650.30 207.54 652.00 205.56 653.70 202.60 C655.37 199.70 657.03 196.18 658.70 193.80 C660.80 190.80 662.90 189.28 665.00 186.30 C667.10 183.32 669.20 178.63 671.30 175.20 C672.87 172.64 674.43 170.02 676.00 168.00 C678.20 165.17 680.40 163.16 682.60 160.80 C685.07 158.15 687.53 154.87 690.00 153.00 C692.37 151.21 694.73 149.48 697.10 148.80 C699.20 148.20 701.30 147.60 703.40 147.60 C704.93 147.60 706.47 148.68 708.00 149.50 C709.40 150.24 710.80 151.28 712.20 152.60 C713.80 154.11 715.40 156.63 717.00 159.00 C718.73 161.57 720.47 164.94 722.20 167.70 C723.13 169.19 724.07 170.44 725.00 172.00 C726.67 174.79 728.33 177.82 730.00 181.40 C730.87 183.26 731.73 185.97 732.60 187.70 C734.67 191.84 736.73 195.33 738.80 197.80 C740.07 199.31 741.33 201.50 742.60 201.50 C745.07 201.50 747.53 199.99 750.00 199.00 C752.67 197.93 755.33 195.65 758.00 195.00 C760.00 194.51 762.00 194.52 764.00 194.00 C766.50 193.35 769.00 189.00 771.50 189.00 C774.00 189.00 776.50 191.03 779.00 192.70 C781.10 194.10 783.20 197.32 785.30 199.00 C787.83 201.02 790.37 204.00 792.90 204.00 C795.00 204.00 797.10 201.43 799.20 199.00 C800.87 197.07 802.53 192.01 804.20 189.00 C805.47 186.71 806.73 185.18 808.00 182.70 C809.23 180.29 810.47 176.19 811.70 173.90 C813.40 170.75 815.10 168.34 816.80 166.30 C817.87 165.02 818.93 163.62 820.00 163.00 C821.43 162.16 822.87 161.30 824.30 161.30 C825.53 161.30 826.77 161.62 828.00 162.00 C829.27 162.39 830.53 163.57 831.80 165.10 C833.07 166.63 834.33 171.57 835.60 173.90 C837.27 176.96 838.93 178.16 840.60 181.40 C841.87 183.86 843.13 188.91 844.40 191.50 C845.67 194.09 846.93 195.28 848.20 197.80 C849.80 200.98 851.40 206.25 853.00 210.00 C854.73 214.07 856.47 218.93 858.20 221.30 C859.90 223.63 861.60 226.40 863.30 226.40 C864.87 226.40 866.43 224.85 868.00 224.00 C870.20 222.80 872.40 220.78 874.60 220.10 C876.67 219.46 878.73 219.08 880.80 218.80 C885.00 218.23 889.20 217.60 893.40 217.60 C895.07 217.60 896.73 218.21 898.40 218.80 C901.43 219.88 904.47 223.37 907.50 226.70 C909.10 228.45 910.70 231.39 912.30 233.40 C914.53 236.21 916.77 239.94 919.00 241.00 C921.23 242.06 923.47 243.00 925.70 243.00 C928.27 243.00 930.83 237.43 933.40 235.30 C935.63 233.44 937.87 231.33 940.10 230.50 C942.07 229.77 944.03 229.00 946.00 229.00 C947.33 229.00 948.67 229.67 950.00 230.00" fill="none" stroke="#0593f3" stroke-width="2.6" stroke-dasharray="9.3 8.2" stroke-linejoin="round"/>
<line x1="74.0" y1="399.2" x2="950.5" y2="399.2" stroke="#707070" stroke-width="1.4"/>
<line x1="74.5" y1="34.5" x2="74.5" y2="399.2" stroke="#3c3c3c" stroke-width="1.4"/>
<line x1="220.5" y1="399.2" x2="220.5" y2="390.7" stroke="#333" stroke-width="1.4"/>
<line x1="366.5" y1="399.2" x2="366.5" y2="390.7" stroke="#d8d8d8" stroke-width="1.4"/>
<line x1="804.5" y1="399.2" x2="804.5" y2="390.7" stroke="#888" stroke-width="1.4"/>
<line x1="950.5" y1="399.2" x2="950.5" y2="390.7" stroke="#333" stroke-width="1.4"/>
<line x1="74.5" y1="34.5" x2="83.0" y2="34.5" stroke="#444" stroke-width="1.4"/>
<line x1="74.5" y1="95.3" x2="83.0" y2="95.3" stroke="#aaa" stroke-width="1.4"/>
<line x1="74.5" y1="156.0" x2="83.0" y2="156.0" stroke="#999" stroke-width="1.4"/>
<line x1="74.5" y1="216.8" x2="83.0" y2="216.8" stroke="#555" stroke-width="1.4"/>
<text x="66.0" y="407.6" text-anchor="end" font-size="23.5" fill="#262626" style="font-family:'Liberation Sans',Arial,Helvetica,sans-serif">-2</text>
<text x="66.0" y="346.8" text-anchor="end" font-size="23.5" fill="#262626" style="font-family:'Liberation Sans',Arial,Helvetica,sans-serif">-1</text>
<text x="66.0" y="286.0" text-anchor="end" font-size="23.5" fill="#262626" style="font-family:'Liberation Sans',Arial,Helvetica,sans-serif">0</text>
<text x="66.0" y="225.2" text-anchor="end" font-size="23.5" fill="#262626" style="font-family:'Liberation Sans',Arial,Helvetica,sans-serif">1</text>
<text x="66.0" y="164.4" text-anchor="end" font-size="23.5" fill="#262626" style="font-family:'Liberation Sans',Arial,Helvetica,sans-serif">2</text>
<text x="66.0" y="103.7" text-anchor="end" font-size="23.5" fill="#262626" style="font-family:'Liberation Sans',Arial,Helvetica,sans-serif">3</text>
<text x="66.0" y="42.9" text-anchor="end" font-size="23.5" fill="#262626" style="font-family:'Liberation Sans',Arial,Helvetica,sans-serif">4</text>
<text x="74.5" y="429.8" text-anchor="middle" font-size="23.5" fill="#262626" style="font-family:'Liberation Sans',Arial,Helvetica,sans-serif">0</text>
<text x="220.5" y="429.8" text-anchor="middle" font-size="23.5" fill="#262626" style="font-family:'Liberation Sans',Arial,Helvetica,sans-serif">0.5</text>
<text x="366.5" y="429.8" text-anchor="middle" font-size="23.5" fill="#262626" style="font-family:'Liberation Sans',Arial,Helvetica,sans-serif">1</text>
<text x="512.5" y="429.8" text-anchor="middle" font-size="23.5" fill="#262626" style="font-family:'Liberation Sans',Arial,Helvetica,sans-serif">1.5</text>
<text x="658.5" y="429.8" text-anchor="middle" font-size="23.5" fill="#262626" style="font-family:'Liberation Sans',Arial,Helvetica,sans-serif">2</text>
<text x="804.5" y="429.8" text-anchor="middle" font-size="23.5" fill="#262626" style="font-family:'Liberation Sans',Arial,Helvetica,sans-serif">2.5</text>
<text x="950.5" y="429.8" text-anchor="middle" font-size="23.5" fill="#262626" style="font-family:'Liberation Sans',Arial,Helvetica,sans-serif">3</text>
<rect x="724.5" y="40.9" width="218.1" height="110.4" fill="#fff"/>
<line x1="724.5" y1="40.9" x2="942.6" y2="40.9" stroke="#999999" stroke-width="1.3"/>
<line x1="724.5" y1="151.3" x2="942.6" y2="151.3" stroke="#aaaaaa" stroke-width="1.3"/>
<line x1="724.5" y1="40.9" x2="724.5" y2="151.3" stroke="#6a6a6a" stroke-width="1.3"/>
<line x1="942.6" y1="40.9" x2="942.6" y2="151.3" stroke="#c8c8c8" stroke-width="1.3"/>
<line x1="728.3" y1="60.0" x2="763.9" y2="60.0" stroke="#000000" stroke-width="2.5" stroke-dasharray="2.4 2.2"/>
<text x="768.2" y="63.4" font-size="22" fill="#000" style="font-family:'Liberation Sans',Arial,Helvetica,sans-serif">R</text>
<text x="784.5" y="74.4" font-size="17.5" fill="#000" style="font-family:'Liberation Sans',Arial,Helvetica,sans-serif">1</text>
<line x1="728.3" y1="96.3" x2="763.9" y2="96.3" stroke="#000000" stroke-width="2.7"/>
<text x="768.2" y="99.7" font-size="22" fill="#000" style="font-family:'Liberation Sans',Arial,Helvetica,sans-serif">R</text>
<text x="784.5" y="110.7" font-size="17.5" fill="#000" style="font-family:'Liberation Sans',Arial,Helvetica,sans-serif">2</text>
<line x1="728.3" y1="131.9" x2="763.9" y2="131.9" stroke="#000000" stroke-width="2.6" stroke-dasharray="10 8.5"/>
<text x="768.2" y="135.3" font-size="22" fill="#000" style="font-family:'Liberation Sans',Arial,Helvetica,sans-serif">R</text>
<text x="784.5" y="146.3" font-size="17.5" fill="#000" style="font-family:'Liberation Sans',Arial,Helvetica,sans-serif">3</text>
<line x1="800.6" y1="60.0" x2="836.3" y2="60.0" stroke="#f20000" stroke-width="2.5" stroke-dasharray="2.4 2.2"/>
<text x="840.5" y="63.4" font-size="22" fill="#000" style="font-family:'Liberation Sans',Arial,Helvetica,sans-serif">R</text>
<text x="856.8" y="74.4" font-size="17.5" fill="#000" style="font-family:'Liberation Sans',Arial,Helvetica,sans-serif">4</text>
<line x1="800.6" y1="96.3" x2="836.3" y2="96.3" stroke="#f20000" stroke-width="2.7"/>
<text x="840.5" y="99.7" font-size="22" fill="#000" style="font-family:'Liberation Sans',Arial,Helvetica,sans-serif">R</text>
<text x="856.8" y="110.7" font-size="17.5" fill="#000" style="font-family:'Liberation Sans',Arial,Helvetica,sans-serif">5</text>
<line x1="800.6" y1="131.9" x2="836.3" y2="131.9" stroke="#f20000" stroke-width="2.6" stroke-dasharray="10 8.5"/>
<text x="840.5" y="135.3" font-size="22" fill="#000" style="font-family:'Liberation Sans',Arial,Helvetica,sans-serif">R</text>
<text x="856.8" y="146.3" font-size="17.5" fill="#000" style="font-family:'Liberation Sans',Arial,Helvetica,sans-serif">6</text>
<line x1="873.4" y1="60.0" x2="909.5" y2="60.0" stroke="#0593f3" stroke-width="2.5" stroke-dasharray="2.4 2.2"/>
<text x="912.8" y="63.4" font-size="22" fill="#000" style="font-family:'Liberation Sans',Arial,Helvetica,sans-serif">R</text>
<text x="929.1" y="74.4" font-size="17.5" fill="#000" style="font-family:'Liberation Sans',Arial,Helvetica,sans-serif">7</text>
<line x1="873.4" y1="96.3" x2="909.5" y2="96.3" stroke="#0593f3" stroke-width="2.7"/>
<text x="912.8" y="99.7" font-size="22" fill="#000" style="font-family:'Liberation Sans',Arial,Helvetica,sans-serif">R</text>
<text x="929.1" y="110.7" font-size="17.5" fill="#000" style="font-family:'Liberation Sans',Arial,Helvetica,sans-serif">8</text>
<line x1="873.4" y1="131.9" x2="909.5" y2="131.9" stroke="#0593f3" stroke-width="2.6" stroke-dasharray="10 8.5"/>
<text x="912.8" y="135.3" font-size="22" fill="#000" style="font-family:'Liberation Sans',Arial,Helvetica,sans-serif">R</text>
<text x="929.1" y="146.3" font-size="17.5" fill="#000" style="font-family:'Liberation Sans',Arial,Helvetica,sans-serif">9</text>
<line x1="1193.8" y1="51.5" x2="1193.8" y2="399.2" stroke="#efefef" stroke-width="1.1"/>
<line x1="1335.3" y1="51.5" x2="1335.3" y2="399.2" stroke="#efefef" stroke-width="1.1"/>
<line x1="1476.8" y1="51.5" x2="1476.8" y2="399.2" stroke="#efefef" stroke-width="1.1"/>
<line x1="1901.4" y1="51.5" x2="1901.4" y2="399.2" stroke="#efefef" stroke-width="1.1"/>
<line x1="1052.3" y1="138.5" x2="1901.4" y2="138.5" stroke="#efefef" stroke-width="1.1"/>
<line x1="1052.3" y1="225.4" x2="1901.4" y2="225.4" stroke="#efefef" stroke-width="1.1"/>
<line x1="1052.3" y1="312.3" x2="1901.4" y2="312.3" stroke="#efefef" stroke-width="1.1"/>
<path d="M1055.00 312.40 C1100.00 312.40 1145.00 312.40 1190.00 312.40 C1192.00 312.40 1194.00 311.92 1196.00 311.50 C1199.00 310.87 1202.00 309.63 1205.00 308.00 C1207.67 306.55 1210.33 303.89 1213.00 301.00 C1215.33 298.47 1217.67 295.00 1220.00 291.20 C1222.27 287.51 1224.53 283.76 1226.80 278.00 C1228.07 274.78 1229.33 269.32 1230.60 265.00 C1232.27 259.32 1233.93 253.83 1235.60 248.00 C1237.27 242.17 1238.93 236.41 1240.60 230.00 C1241.90 225.00 1243.20 217.90 1244.50 214.00 C1246.10 209.19 1247.70 205.63 1249.30 202.80 C1251.40 199.09 1253.50 197.19 1255.60 194.00 C1258.10 190.20 1260.60 186.90 1263.10 181.40 C1264.77 177.73 1266.43 171.53 1268.10 166.30 C1269.77 161.07 1271.43 156.14 1273.10 150.00 C1274.07 146.44 1275.03 140.43 1276.00 138.00 C1277.63 133.90 1279.27 129.60 1280.90 129.60 C1282.57 129.60 1284.23 133.86 1285.90 137.80 C1287.17 140.79 1288.43 146.10 1289.70 152.80 C1290.90 159.15 1292.10 172.57 1293.30 181.40 C1294.20 188.02 1295.10 195.14 1296.00 200.00 C1296.77 204.14 1297.53 206.40 1298.30 210.30 C1299.00 213.86 1299.70 220.34 1300.40 222.60 C1301.93 227.54 1303.47 230.09 1305.00 232.00 C1307.33 234.90 1309.67 236.77 1312.00 238.00 C1314.67 239.40 1317.33 239.62 1320.00 241.00 C1322.27 242.17 1324.53 243.33 1326.80 246.50 C1327.63 247.67 1328.47 252.10 1329.30 254.00 C1330.97 257.81 1332.63 261.53 1334.30 262.80 C1335.93 264.05 1337.57 264.39 1339.20 265.20 C1340.73 265.96 1342.27 267.50 1343.80 267.50 C1345.33 267.50 1346.87 264.12 1348.40 260.60 C1349.17 258.84 1349.93 253.09 1350.70 251.40 C1352.47 247.50 1354.23 245.64 1356.00 244.00 C1359.00 241.21 1362.00 238.93 1365.00 238.00 C1368.33 236.96 1371.67 236.00 1375.00 236.00 C1379.17 236.00 1383.33 237.74 1387.50 240.00 C1389.67 241.17 1391.83 246.13 1394.00 248.00 C1396.00 249.72 1398.00 250.73 1400.00 252.00 C1403.33 254.11 1406.67 256.18 1410.00 258.00 C1413.33 259.82 1416.67 263.00 1420.00 263.00 C1422.67 263.00 1425.33 261.35 1428.00 260.00 C1432.00 257.98 1436.00 251.61 1440.00 250.00 C1443.33 248.66 1446.67 247.30 1450.00 247.30 C1453.33 247.30 1456.67 249.46 1460.00 252.30 C1462.47 254.40 1464.93 262.34 1467.40 269.80 C1469.07 274.84 1470.73 286.60 1472.40 289.80 C1474.03 292.93 1475.67 296.00 1477.30 296.00 C1479.20 296.00 1481.10 294.88 1483.00 294.00 C1485.40 292.89 1487.80 290.41 1490.20 288.90 C1493.97 286.53 1497.73 282.60 1501.50 282.60 C1503.60 282.60 1505.70 285.59 1507.80 288.90 C1509.03 290.84 1510.27 295.89 1511.50 300.20 C1512.33 303.11 1513.17 306.48 1514.00 310.20 C1514.83 313.92 1515.67 318.67 1516.50 322.80 C1517.33 326.93 1518.17 330.95 1519.00 335.00 C1519.87 339.21 1520.73 344.10 1521.60 347.60 C1522.83 352.58 1524.07 356.64 1525.30 360.20 C1527.00 365.11 1528.70 368.30 1530.40 372.80 C1531.57 375.89 1532.73 380.08 1533.90 382.70 C1536.00 387.41 1538.10 391.51 1540.20 394.00 C1541.87 395.97 1543.53 398.50 1545.20 398.50 C1547.30 398.50 1549.40 396.39 1551.50 394.00 C1553.17 392.10 1554.83 385.33 1556.50 381.40 C1558.20 377.39 1559.90 372.24 1561.60 370.10 C1563.27 368.00 1564.93 366.31 1566.60 365.70 C1569.53 364.62 1572.47 364.57 1575.40 363.80 C1577.90 363.14 1580.40 361.30 1582.90 361.30 C1584.60 361.30 1586.30 363.41 1588.00 365.10 C1589.67 366.76 1591.33 372.60 1593.00 372.60 C1594.27 372.60 1595.53 372.60 1596.80 372.60 C1598.03 372.60 1599.27 367.20 1600.50 363.80 C1601.77 360.31 1603.03 356.22 1604.30 351.30 C1605.20 347.81 1606.10 342.29 1607.00 338.80 C1608.27 333.88 1609.53 327.67 1610.80 326.30 C1612.90 324.03 1615.00 322.50 1617.10 322.50 C1620.03 322.50 1622.97 322.50 1625.90 322.50 C1627.57 322.50 1629.23 324.36 1630.90 326.30 C1632.57 328.24 1634.23 333.62 1635.90 338.80 C1637.17 342.74 1638.43 349.17 1639.70 354.00 C1641.30 360.10 1642.90 368.00 1644.50 371.40 C1646.17 374.95 1647.83 378.90 1649.50 378.90 C1652.43 378.90 1655.37 374.70 1658.30 372.60 C1661.23 370.50 1664.17 369.13 1667.10 366.30 C1669.20 364.28 1671.30 362.08 1673.40 357.50 C1674.77 354.52 1676.13 344.74 1677.50 340.00 C1679.20 334.11 1680.90 327.06 1682.60 325.30 C1684.67 323.17 1686.73 322.32 1688.80 321.50 C1691.73 320.34 1694.67 320.07 1697.60 319.00 C1700.13 318.08 1702.67 316.78 1705.20 315.20 C1707.70 313.64 1710.20 309.00 1712.70 309.00 C1715.63 309.00 1718.57 309.70 1721.50 309.70 C1725.10 309.70 1728.70 305.70 1732.30 305.70 C1734.20 305.70 1736.10 309.20 1738.00 312.00 C1740.57 315.78 1743.13 323.73 1745.70 329.90 C1747.50 334.23 1749.30 339.62 1751.10 343.30 C1752.90 346.98 1754.70 351.95 1756.50 352.70 C1758.33 353.46 1760.17 354.00 1762.00 354.00 C1763.73 354.00 1765.47 353.36 1767.20 352.70 C1768.47 352.22 1769.73 351.27 1771.00 350.00 C1772.97 348.02 1774.93 343.84 1776.90 338.60 C1778.30 334.87 1779.70 327.60 1781.10 321.70 C1782.53 315.66 1783.97 307.76 1785.40 302.70 C1787.13 296.59 1788.87 292.04 1790.60 287.60 C1791.87 284.36 1793.13 282.22 1794.40 278.80 C1796.50 273.13 1798.60 264.93 1800.70 257.70 C1801.53 254.83 1802.37 251.39 1803.20 248.90 C1804.87 243.91 1806.53 241.09 1808.20 236.30 C1809.47 232.66 1810.73 227.46 1812.00 223.80 C1813.27 220.14 1814.53 216.43 1815.80 214.00 C1817.47 210.80 1819.13 208.10 1820.80 206.50 C1823.30 204.10 1825.80 203.47 1828.30 201.40 C1831.23 198.98 1834.17 192.00 1837.10 192.00 C1838.37 192.00 1839.63 194.59 1840.90 197.70 C1841.73 199.75 1842.57 206.52 1843.40 211.50 C1844.23 216.48 1845.07 222.20 1845.90 227.80 C1846.73 233.40 1847.57 239.83 1848.40 245.10 C1849.27 250.58 1850.13 257.02 1851.00 260.20 C1852.67 266.31 1854.33 271.17 1856.00 272.80 C1858.10 274.85 1860.20 276.50 1862.30 276.50 C1865.23 276.50 1868.17 273.86 1871.10 271.50 C1873.60 269.49 1876.10 265.95 1878.60 261.50 C1880.27 258.53 1881.93 253.64 1883.60 248.90 C1885.27 244.16 1886.93 235.91 1888.60 232.60 C1890.70 228.43 1892.80 225.57 1894.90 223.80 C1897.00 222.03 1899.10 221.27 1901.20 220.00" fill="none" stroke="#000000" stroke-width="2.4" stroke-dasharray="2.2 2.5" stroke-linejoin="round"/>
<path d="M1055.00 312.40 C1083.33 312.40 1111.67 312.40 1140.00 312.40 C1142.33 312.40 1144.67 312.15 1147.00 311.80 C1148.67 311.55 1150.33 310.48 1152.00 309.50 C1153.80 308.44 1155.60 307.13 1157.40 305.00 C1158.93 303.19 1160.47 299.61 1162.00 296.00 C1163.37 292.78 1164.73 288.90 1166.10 284.00 C1167.07 280.54 1168.03 276.07 1169.00 271.00 C1169.70 267.33 1170.40 262.87 1171.10 258.00 C1171.73 253.60 1172.37 248.31 1173.00 243.00 C1173.63 237.69 1174.27 232.34 1174.90 226.00 C1176.07 214.33 1177.23 197.77 1178.40 185.10 C1179.53 172.79 1180.67 161.95 1181.80 150.60 C1182.97 138.92 1184.13 126.40 1185.30 116.00 C1186.43 105.90 1187.57 94.93 1188.70 88.40 C1189.87 81.68 1191.03 76.08 1192.20 72.80 C1193.93 67.92 1195.67 64.24 1197.40 62.50 C1199.70 60.19 1202.00 59.29 1204.30 58.00 C1207.17 56.39 1210.03 54.83 1212.90 53.80 C1214.97 53.06 1217.03 52.00 1219.10 52.00 C1221.07 52.00 1223.03 53.62 1225.00 55.50 C1226.73 57.16 1228.47 62.50 1230.20 67.60 C1231.93 72.70 1233.67 79.96 1235.40 88.40 C1236.90 95.70 1238.40 105.32 1239.90 116.00 C1241.27 125.73 1242.63 138.15 1244.00 150.60 C1245.17 161.23 1246.33 177.28 1247.50 185.10 C1248.63 192.70 1249.77 198.78 1250.90 202.40 C1252.03 206.02 1253.17 210.30 1254.30 210.30 C1255.97 210.30 1257.63 209.10 1259.30 209.10 C1261.00 209.10 1262.70 209.88 1264.40 210.30 C1266.07 210.71 1267.73 211.60 1269.40 211.60 C1270.93 211.60 1272.47 207.50 1274.00 207.50 C1275.27 207.50 1276.53 208.11 1277.80 208.80 C1279.47 209.70 1281.13 213.20 1282.80 216.30 C1284.03 218.59 1285.27 221.53 1286.50 225.10 C1287.53 228.09 1288.57 233.45 1289.60 236.40 C1290.87 240.01 1292.13 243.46 1293.40 245.20 C1294.67 246.94 1295.93 248.90 1297.20 248.90 C1298.80 248.90 1300.40 245.62 1302.00 244.00 C1303.33 242.65 1304.67 240.00 1306.00 240.00 C1307.33 240.00 1308.67 241.91 1310.00 243.00 C1311.67 244.36 1313.33 246.99 1315.00 247.50 C1316.83 248.06 1318.67 247.85 1320.50 248.50 C1321.33 248.80 1322.17 250.48 1323.00 252.00 C1324.00 253.82 1325.00 257.29 1326.00 260.00 C1327.33 263.61 1328.67 266.83 1330.00 271.00 C1331.47 275.58 1332.93 281.16 1334.40 287.00 C1335.77 292.44 1337.13 299.42 1338.50 305.00 C1339.90 310.71 1341.30 321.00 1342.70 321.00 C1344.40 321.00 1346.10 317.33 1347.80 315.10 C1349.47 312.91 1351.13 309.09 1352.80 307.50 C1355.30 305.12 1357.80 303.23 1360.30 302.50 C1362.40 301.89 1364.50 301.30 1366.60 301.30 C1368.27 301.30 1369.93 303.80 1371.60 303.80 C1373.00 303.80 1374.40 300.58 1375.80 298.00 C1377.03 295.73 1378.27 290.20 1379.50 288.00 C1381.20 284.97 1382.90 282.81 1384.60 281.40 C1387.10 279.33 1389.60 279.12 1392.10 277.00 C1393.77 275.59 1395.43 272.80 1397.10 270.10 C1398.80 267.35 1400.50 263.09 1402.20 260.10 C1403.47 257.87 1404.73 255.38 1406.00 254.00 C1407.73 252.10 1409.47 251.82 1411.20 249.80 C1413.70 246.89 1416.20 239.48 1418.70 232.40 C1420.80 226.46 1422.90 216.11 1425.00 209.90 C1426.63 205.07 1428.27 198.72 1429.90 197.40 C1431.57 196.05 1433.23 195.56 1434.90 195.00 C1436.57 194.44 1438.23 194.44 1439.90 193.70 C1441.60 192.95 1443.30 187.93 1445.00 186.00 C1447.03 183.69 1449.07 180.50 1451.10 180.50 C1453.20 180.50 1455.30 185.88 1457.40 190.00 C1459.47 194.06 1461.53 201.24 1463.60 207.40 C1465.70 213.66 1467.80 220.40 1469.90 227.40 C1471.57 232.96 1473.23 239.02 1474.90 244.90 C1476.53 250.66 1478.17 255.71 1479.80 262.30 C1481.07 267.41 1482.33 272.23 1483.60 279.80 C1484.43 284.78 1485.27 295.83 1486.10 300.00 C1487.30 306.00 1488.50 307.70 1489.70 312.60 C1490.57 316.14 1491.43 323.26 1492.30 325.10 C1493.97 328.65 1495.63 329.25 1497.30 331.40 C1498.57 333.03 1499.83 334.37 1501.10 336.40 C1502.33 338.38 1503.57 341.38 1504.80 344.00 C1506.50 347.62 1508.20 355.30 1509.90 355.30 C1511.57 355.30 1513.23 350.61 1514.90 347.80 C1516.43 345.22 1517.97 339.00 1519.50 339.00 C1521.17 339.00 1522.83 342.80 1524.50 345.20 C1526.17 347.60 1527.83 353.80 1529.50 353.80 C1531.33 353.80 1533.17 350.98 1535.00 349.00 C1536.80 347.06 1538.60 343.26 1540.40 341.40 C1542.50 339.23 1544.60 338.66 1546.70 336.30 C1548.37 334.43 1550.03 329.35 1551.70 327.50 C1553.80 325.17 1555.90 324.31 1558.00 322.50 C1559.67 321.06 1561.33 319.83 1563.00 317.80 C1564.70 315.73 1566.40 311.47 1568.10 309.00 C1569.77 306.57 1571.43 302.70 1573.10 302.70 C1575.60 302.70 1578.10 302.70 1580.60 302.70 C1582.30 302.70 1584.00 299.76 1585.70 297.70 C1586.93 296.20 1588.17 292.00 1589.40 292.00 C1590.67 292.00 1591.93 295.54 1593.20 297.70 C1594.87 300.54 1596.53 307.70 1598.20 307.70 C1599.90 307.70 1601.60 302.15 1603.30 297.70 C1604.53 294.47 1605.77 286.61 1607.00 283.80 C1608.27 280.91 1609.53 277.60 1610.80 277.60 C1612.47 277.60 1614.13 280.81 1615.80 282.60 C1617.07 283.96 1618.33 287.00 1619.60 287.00 C1620.87 287.00 1622.13 283.10 1623.40 281.30 C1624.63 279.55 1625.87 276.30 1627.10 276.30 C1629.63 276.30 1632.17 278.80 1634.70 278.80 C1636.37 278.80 1638.03 274.14 1639.70 272.50 C1641.80 270.44 1643.90 267.50 1646.00 267.50 C1648.50 267.50 1651.00 269.60 1653.50 271.30 C1655.60 272.73 1657.70 274.57 1659.80 277.60 C1661.07 279.43 1662.33 283.66 1663.60 286.40 C1664.83 289.07 1666.07 293.40 1667.30 293.90 C1669.40 294.75 1671.50 294.74 1673.60 295.20 C1675.30 295.57 1677.00 295.79 1678.70 296.40 C1680.77 297.14 1682.83 301.40 1684.90 301.40 C1687.00 301.40 1689.10 297.91 1691.20 296.40 C1692.50 295.46 1693.80 293.80 1695.10 293.80 C1696.80 293.80 1698.50 295.75 1700.20 297.60 C1701.87 299.42 1703.53 303.66 1705.20 307.70 C1706.47 310.77 1707.73 314.83 1709.00 319.00 C1710.47 323.83 1711.93 330.40 1713.40 335.30 C1716.10 344.33 1718.80 354.27 1721.50 359.50 C1723.67 363.70 1725.83 369.00 1728.00 369.00 C1730.30 369.00 1732.60 364.45 1734.90 359.50 C1736.70 355.62 1738.50 342.46 1740.30 335.30 C1741.67 329.86 1743.03 323.06 1744.40 320.50 C1747.53 314.64 1750.67 313.72 1753.80 309.70 C1756.03 306.83 1758.27 302.71 1760.50 300.10 C1762.17 298.15 1763.83 295.79 1765.50 295.10 C1767.17 294.41 1768.83 294.57 1770.50 293.80 C1771.77 293.21 1773.03 289.68 1774.30 287.60 C1775.57 285.52 1776.83 283.02 1778.10 281.30 C1779.80 278.99 1781.50 275.50 1783.20 275.50 C1785.27 275.50 1787.33 280.61 1789.40 282.00 C1791.50 283.41 1793.60 283.85 1795.70 285.10 C1797.37 286.09 1799.03 287.06 1800.70 288.80 C1801.97 290.12 1803.23 293.47 1804.50 295.10 C1805.80 296.77 1807.10 299.20 1808.40 299.20 C1810.03 299.20 1811.67 294.21 1813.30 291.30 C1814.97 288.33 1816.63 284.21 1818.30 281.30 C1819.87 278.56 1821.43 275.85 1823.00 274.00 C1824.77 271.92 1826.53 269.81 1828.30 269.00 C1829.57 268.42 1830.83 267.80 1832.10 267.80 C1833.37 267.80 1834.63 271.68 1835.90 275.30 C1836.73 277.68 1837.57 284.11 1838.40 287.00 C1840.07 292.78 1841.73 296.85 1843.40 300.10 C1845.10 303.41 1846.80 305.24 1848.50 308.00 C1850.17 310.70 1851.83 314.15 1853.50 316.50 C1854.33 317.67 1855.17 319.60 1856.00 319.60 C1857.23 319.60 1858.47 315.64 1859.70 312.70 C1860.97 309.68 1862.23 303.55 1863.50 300.10 C1864.77 296.65 1866.03 292.55 1867.30 291.30 C1869.40 289.23 1871.50 289.51 1873.60 287.60 C1874.83 286.48 1876.07 284.56 1877.30 281.30 C1878.17 279.01 1879.03 270.96 1879.90 267.80 C1881.13 263.31 1882.37 258.24 1883.60 257.70 C1885.40 256.92 1887.20 256.56 1889.00 256.50 C1890.97 256.44 1892.93 256.47 1894.90 256.40 C1897.00 256.33 1899.10 248.87 1901.20 245.10" fill="none" stroke="#000000" stroke-width="2.6" stroke-linejoin="round"/>
<path d="M1055.00 312.40 C1102.67 312.40 1150.33 312.40 1198.00 312.40 C1200.33 312.40 1202.67 311.98 1205.00 311.50 C1207.33 311.02 1209.67 309.48 1212.00 308.00 C1214.67 306.31 1217.33 303.85 1220.00 301.00 C1222.67 298.15 1225.33 294.07 1228.00 290.00 C1230.53 286.13 1233.07 281.01 1235.60 277.00 C1237.40 274.15 1239.20 271.67 1241.00 269.00 C1243.80 264.84 1246.60 260.71 1249.40 256.50 C1251.27 253.69 1253.13 250.71 1255.00 248.00 C1256.90 245.25 1258.80 243.48 1260.70 240.10 C1262.40 237.07 1264.10 231.38 1265.80 227.60 C1267.03 224.86 1268.27 223.16 1269.50 220.00 C1271.13 215.82 1272.77 207.71 1274.40 202.80 C1275.67 198.99 1276.93 194.58 1278.20 192.70 C1279.87 190.23 1281.53 187.70 1283.20 187.70 C1284.80 187.70 1286.40 188.59 1288.00 190.00 C1288.90 190.79 1289.80 195.45 1290.70 197.80 C1291.57 200.06 1292.43 200.96 1293.30 204.00 C1293.97 206.34 1294.63 214.09 1295.30 216.30 C1296.87 221.49 1298.43 224.20 1300.00 226.00 C1302.67 229.06 1305.33 231.58 1308.00 232.00 C1312.00 232.63 1316.00 232.55 1320.00 233.00 C1328.33 233.94 1336.67 238.00 1345.00 238.00 C1353.33 238.00 1361.67 236.26 1370.00 235.00 C1376.67 233.99 1383.33 231.86 1390.00 231.00 C1393.33 230.57 1396.67 230.00 1400.00 230.00 C1402.00 230.00 1404.00 231.06 1406.00 231.70 C1410.67 233.18 1415.33 235.80 1420.00 237.00 C1424.97 238.28 1429.93 239.90 1434.90 239.90 C1437.27 239.90 1439.63 235.97 1442.00 234.00 C1444.63 231.81 1447.27 227.40 1449.90 227.40 C1453.23 227.40 1456.57 228.36 1459.90 229.90 C1462.40 231.05 1464.90 240.92 1467.40 244.90 C1469.90 248.88 1472.40 253.19 1474.90 254.80 C1479.03 257.47 1483.17 259.80 1487.30 259.80 C1491.47 259.80 1495.63 258.97 1499.80 257.30 C1501.60 256.58 1503.40 251.12 1505.20 248.00 C1506.73 245.35 1508.27 243.39 1509.80 240.00 C1510.80 237.79 1511.80 234.75 1512.80 231.30 C1514.03 227.05 1515.27 219.55 1516.50 215.30 C1517.37 212.31 1518.23 210.62 1519.10 207.70 C1520.33 203.55 1521.57 195.11 1522.80 192.70 C1524.90 188.60 1527.00 185.10 1529.10 185.10 C1531.20 185.10 1533.30 187.58 1535.40 190.20 C1537.07 192.28 1538.73 197.86 1540.40 202.70 C1542.07 207.54 1543.73 214.24 1545.40 220.00 C1547.10 225.87 1548.80 230.74 1550.50 237.60 C1551.73 242.58 1552.97 250.22 1554.20 255.20 C1555.90 262.06 1557.60 269.63 1559.30 272.80 C1561.20 276.34 1563.10 280.00 1565.00 280.00 C1566.87 280.00 1568.73 276.35 1570.60 272.80 C1572.27 269.63 1573.93 261.07 1575.60 255.20 C1577.27 249.33 1578.93 242.81 1580.60 237.60 C1582.70 231.03 1584.80 224.77 1586.90 220.00 C1588.27 216.90 1589.63 213.72 1591.00 212.00 C1592.57 210.03 1594.13 207.70 1595.70 207.70 C1596.97 207.70 1598.23 210.71 1599.50 212.80 C1601.17 215.55 1602.83 220.83 1604.50 223.80 C1606.33 227.07 1608.17 229.98 1610.00 232.00 C1612.33 234.57 1614.67 238.00 1617.00 238.00 C1618.67 238.00 1620.33 233.27 1622.00 230.00 C1623.30 227.45 1624.60 223.21 1625.90 220.30 C1628.00 215.60 1630.10 210.46 1632.20 207.70 C1633.87 205.51 1635.53 202.70 1637.20 202.70 C1638.80 202.70 1640.40 203.95 1642.00 205.00 C1643.33 205.87 1644.67 207.00 1646.00 209.00 C1647.67 211.49 1649.33 220.11 1651.00 225.10 C1653.10 231.38 1655.20 236.92 1657.30 242.60 C1658.87 246.83 1660.43 251.91 1662.00 255.00 C1663.37 257.69 1664.73 260.87 1666.10 261.50 C1668.07 262.40 1670.03 263.00 1672.00 263.00 C1675.07 263.00 1678.13 261.01 1681.20 260.20 C1682.87 259.76 1684.53 259.00 1686.20 259.00 C1689.53 259.00 1692.87 262.34 1696.20 264.00 C1698.77 265.27 1701.33 266.21 1703.90 267.80 C1706.83 269.62 1709.77 271.85 1712.70 275.30 C1713.97 276.79 1715.23 280.55 1716.50 281.60 C1719.07 283.72 1721.63 285.50 1724.20 285.50 C1727.77 285.50 1731.33 283.70 1734.90 282.80 C1738.60 281.87 1742.30 280.91 1746.00 280.00 C1749.50 279.14 1753.00 278.48 1756.50 277.50 C1759.17 276.75 1761.83 274.80 1764.50 274.80 C1767.00 274.80 1769.50 280.88 1772.00 284.00 C1774.87 287.57 1777.73 291.72 1780.60 294.90 C1782.40 296.89 1784.20 299.13 1786.00 300.30 C1789.30 302.44 1792.60 302.69 1795.90 304.80 C1798.03 306.16 1800.17 308.28 1802.30 311.10 C1804.40 313.88 1806.50 319.24 1808.60 323.80 C1810.70 328.36 1812.80 333.23 1814.90 338.60 C1816.67 343.12 1818.43 348.66 1820.20 353.40 C1822.67 360.01 1825.13 369.64 1827.60 372.40 C1829.00 373.97 1830.40 375.60 1831.80 375.60 C1833.93 375.60 1836.07 371.13 1838.20 368.20 C1840.30 365.32 1842.40 361.69 1844.50 357.60 C1846.63 353.45 1848.77 348.44 1850.90 342.80 C1852.30 339.10 1853.70 334.64 1855.10 330.10 C1856.50 325.56 1857.90 319.05 1859.30 315.40 C1861.40 309.93 1863.50 306.73 1865.60 302.70 C1867.73 298.61 1869.87 293.79 1872.00 291.00 C1874.67 287.51 1877.33 285.21 1880.00 283.00 C1883.33 280.24 1886.67 277.32 1890.00 276.00 C1893.67 274.55 1897.33 274.00 1901.00 273.00" fill="none" stroke="#000000" stroke-width="2.6" stroke-dasharray="9.3 8.2" stroke-linejoin="round"/>
<path d="M1055.00 312.40 C1126.67 312.40 1198.33 312.40 1270.00 312.40 C1273.43 312.40 1276.87 312.03 1280.30 311.80 C1283.53 311.58 1286.77 311.33 1290.00 311.00 C1292.63 310.74 1295.27 310.59 1297.90 310.00 C1300.40 309.44 1302.90 305.82 1305.40 302.80 C1307.50 300.26 1309.60 296.73 1311.70 292.70 C1313.80 288.67 1315.90 283.22 1318.00 277.60 C1319.67 273.14 1321.33 267.86 1323.00 262.60 C1324.27 258.60 1325.53 255.23 1326.80 250.00 C1328.60 242.57 1330.40 227.58 1332.20 219.20 C1333.47 213.30 1334.73 208.48 1336.00 204.00 C1337.07 200.23 1338.13 197.18 1339.20 193.80 C1340.13 190.85 1341.07 186.66 1342.00 185.00 C1343.57 182.22 1345.13 179.50 1346.70 179.50 C1348.13 179.50 1349.57 180.20 1351.00 181.00 C1351.87 181.48 1352.73 182.60 1353.60 183.90 C1354.93 185.90 1356.27 189.25 1357.60 193.80 C1358.37 196.42 1359.13 203.15 1359.90 205.30 C1361.93 210.99 1363.97 213.92 1366.00 216.00 C1368.33 218.39 1370.67 221.00 1373.00 221.00 C1375.33 221.00 1377.67 217.77 1380.00 216.00 C1382.50 214.10 1385.00 209.90 1387.50 209.90 C1389.03 209.90 1390.57 209.90 1392.10 209.90 C1394.40 209.90 1396.70 213.65 1399.00 216.80 C1400.53 218.90 1402.07 222.67 1403.60 226.10 C1405.13 229.53 1406.67 233.81 1408.20 237.60 C1409.77 241.47 1411.33 246.19 1412.90 249.10 C1414.43 251.95 1415.97 253.04 1417.50 256.00 C1418.33 257.61 1419.17 261.73 1420.00 262.30 C1422.47 263.98 1424.93 264.80 1427.40 264.80 C1429.90 264.80 1432.40 255.00 1434.90 255.00 C1436.93 255.00 1438.97 256.17 1441.00 257.50 C1442.67 258.59 1444.33 262.48 1446.00 265.00 C1447.67 267.52 1449.33 270.59 1451.00 272.60 C1452.67 274.61 1454.33 277.60 1456.00 277.60 C1457.67 277.60 1459.33 276.36 1461.00 275.00 C1462.33 273.91 1463.67 269.58 1465.00 268.00 C1467.33 265.23 1469.67 263.48 1472.00 262.00 C1474.67 260.31 1477.33 258.00 1480.00 258.00 C1483.33 258.00 1486.67 259.97 1490.00 262.00 C1492.33 263.42 1494.67 267.67 1497.00 270.00 C1498.90 271.90 1500.80 273.20 1502.70 275.10 C1505.23 277.63 1507.77 280.10 1510.30 283.80 C1512.80 287.45 1515.30 294.07 1517.80 298.90 C1520.30 303.73 1522.80 308.53 1525.30 312.80 C1527.40 316.38 1529.50 318.59 1531.60 322.80 C1532.87 325.34 1534.13 329.73 1535.40 332.60 C1537.07 336.38 1538.73 340.38 1540.40 342.60 C1542.07 344.82 1543.73 347.60 1545.40 347.60 C1547.93 347.60 1550.47 344.05 1553.00 342.60 C1555.50 341.17 1558.00 338.80 1560.50 338.80 C1563.43 338.80 1566.37 338.80 1569.30 338.80 C1571.40 338.80 1573.50 335.51 1575.60 333.80 C1578.10 331.76 1580.60 329.73 1583.10 327.50 C1585.63 325.24 1588.17 323.12 1590.70 320.30 C1593.20 317.52 1595.70 310.20 1598.20 310.20 C1599.90 310.20 1601.60 313.42 1603.30 315.30 C1604.97 317.15 1606.63 318.85 1608.30 321.50 C1609.97 324.15 1611.63 329.49 1613.30 332.60 C1614.57 334.97 1615.83 338.80 1617.10 338.80 C1619.20 338.80 1621.30 335.42 1623.40 332.60 C1625.07 330.36 1626.73 325.92 1628.40 322.50 C1629.60 320.04 1630.80 316.85 1632.00 315.00 C1633.67 312.42 1635.33 309.52 1637.00 309.00 C1639.57 308.20 1642.13 307.70 1644.70 307.70 C1646.80 307.70 1648.90 310.40 1651.00 312.80 C1652.67 314.70 1654.33 318.07 1656.00 322.00 C1657.70 326.01 1659.40 333.95 1661.10 338.80 C1662.77 343.56 1664.43 348.20 1666.10 351.40 C1667.73 354.53 1669.37 359.00 1671.00 359.00 C1673.67 359.00 1676.33 357.74 1679.00 356.40 C1681.33 355.23 1683.67 350.91 1686.00 349.00 C1688.57 346.90 1691.13 343.90 1693.70 343.90 C1695.80 343.90 1697.90 346.09 1700.00 348.90 C1701.33 350.68 1702.67 357.93 1704.00 362.00 C1705.53 366.68 1707.07 371.40 1708.60 375.10 C1710.40 379.44 1712.20 386.30 1714.00 386.30 C1715.53 386.30 1717.07 383.67 1718.60 381.40 C1720.30 378.89 1722.00 373.90 1723.70 368.80 C1725.67 362.90 1727.63 353.10 1729.60 346.00 C1732.27 336.38 1734.93 325.77 1737.60 319.10 C1740.30 312.35 1743.00 305.02 1745.70 303.00 C1747.80 301.43 1749.90 300.75 1752.00 300.00 C1754.37 299.16 1756.73 299.09 1759.10 298.00 C1761.80 296.76 1764.50 292.10 1767.20 286.90 C1769.00 283.43 1770.80 277.94 1772.60 270.80 C1773.40 267.63 1774.20 262.12 1775.00 258.00 C1776.03 252.68 1777.07 247.43 1778.10 242.60 C1779.33 236.83 1780.57 229.94 1781.80 226.30 C1783.50 221.29 1785.20 215.87 1786.90 215.30 C1788.13 214.89 1789.37 214.60 1790.60 214.60 C1792.30 214.60 1794.00 218.19 1795.70 221.50 C1797.37 224.75 1799.03 234.55 1800.70 238.80 C1802.37 243.05 1804.03 246.31 1805.70 248.90 C1807.37 251.49 1809.03 253.56 1810.70 255.20 C1812.80 257.26 1814.90 258.32 1817.00 260.20 C1818.27 261.33 1819.53 264.00 1820.80 264.00 C1822.07 264.00 1823.33 261.24 1824.60 260.20 C1827.10 258.16 1829.60 257.36 1832.10 255.20 C1834.20 253.38 1836.30 249.09 1838.40 247.60 C1840.90 245.83 1843.40 244.89 1845.90 243.90 C1848.43 242.90 1850.97 241.40 1853.50 241.40 C1856.00 241.40 1858.50 243.73 1861.00 246.40 C1862.67 248.18 1864.33 254.44 1866.00 257.70 C1867.70 261.03 1869.40 264.07 1871.10 266.50 C1873.17 269.46 1875.23 270.76 1877.30 274.00 C1879.40 277.29 1881.50 284.01 1883.60 288.00 C1885.40 291.42 1887.20 295.43 1889.00 297.00 C1890.37 298.19 1891.73 299.50 1893.10 299.50 C1895.20 299.50 1897.30 297.96 1899.40 296.30 C1900.00 295.83 1900.60 294.77 1901.20 294.00" fill="none" stroke="#f20000" stroke-width="2.4" stroke-dasharray="2.2 2.5" stroke-linejoin="round"/>
<path d="M1055.00 312.40 C1118.33 312.40 1181.67 312.40 1245.00 312.40 C1248.33 312.40 1251.67 312.20 1255.00 312.00 C1259.23 311.74 1263.47 311.30 1267.70 310.30 C1269.80 309.80 1271.90 308.26 1274.00 306.50 C1276.10 304.74 1278.20 301.45 1280.30 297.80 C1281.97 294.91 1283.63 290.73 1285.30 286.40 C1286.57 283.11 1287.83 279.11 1289.10 275.10 C1290.33 271.20 1291.57 267.16 1292.80 262.60 C1293.63 259.52 1294.47 255.81 1295.30 252.50 C1296.37 248.26 1297.43 244.32 1298.50 240.00 C1299.77 234.87 1301.03 229.24 1302.30 224.00 C1303.83 217.65 1305.37 210.50 1306.90 205.30 C1308.07 201.35 1309.23 196.72 1310.40 195.00 C1312.30 192.20 1314.20 189.70 1316.10 189.70 C1318.07 189.70 1320.03 191.79 1322.00 194.00 C1323.10 195.23 1324.20 198.31 1325.30 200.70 C1326.20 202.66 1327.10 204.58 1328.00 207.00 C1329.33 210.58 1330.67 216.07 1332.00 220.00 C1334.00 225.90 1336.00 232.38 1338.00 236.00 C1340.70 240.88 1343.40 244.41 1346.10 246.80 C1348.43 248.87 1350.77 250.48 1353.10 251.50 C1355.37 252.49 1357.63 253.70 1359.90 253.70 C1362.67 253.70 1365.43 251.47 1368.20 250.30 C1370.03 249.52 1371.87 248.83 1373.70 247.90 C1376.77 246.35 1379.83 242.20 1382.90 242.20 C1385.97 242.20 1389.03 243.73 1392.10 244.50 C1395.17 245.27 1398.23 246.80 1401.30 246.80 C1404.37 246.80 1407.43 242.32 1410.50 239.90 C1413.67 237.40 1416.83 232.58 1420.00 232.00 C1422.90 231.47 1425.80 231.10 1428.70 231.10 C1431.60 231.10 1434.50 233.18 1437.40 234.90 C1441.57 237.37 1445.73 243.61 1449.90 247.30 C1454.07 250.99 1458.23 255.46 1462.40 257.30 C1466.57 259.14 1470.73 260.82 1474.90 261.10 C1478.30 261.33 1481.70 261.24 1485.10 261.50 C1487.63 261.69 1490.17 264.31 1492.70 266.00 C1495.63 267.96 1498.57 272.80 1501.50 272.80 C1504.43 272.80 1507.37 271.36 1510.30 270.30 C1513.63 269.10 1516.97 266.73 1520.30 265.30 C1523.67 263.85 1527.03 262.86 1530.40 261.50 C1533.33 260.32 1536.27 259.62 1539.20 257.70 C1541.27 256.35 1543.33 253.38 1545.40 250.20 C1546.67 248.25 1547.93 244.79 1549.20 242.60 C1550.87 239.72 1552.53 236.76 1554.20 235.10 C1555.90 233.41 1557.60 231.30 1559.30 231.30 C1561.40 231.30 1563.50 233.85 1565.60 236.40 C1567.27 238.42 1568.93 244.16 1570.60 247.70 C1572.27 251.24 1573.93 254.82 1575.60 257.70 C1577.27 260.58 1578.93 263.66 1580.60 265.30 C1582.30 266.97 1584.00 269.00 1585.70 269.00 C1588.20 269.00 1590.70 269.00 1593.20 269.00 C1595.70 269.00 1598.20 266.86 1600.70 266.50 C1602.80 266.19 1604.90 265.90 1607.00 265.90 C1609.10 265.90 1611.20 268.26 1613.30 270.00 C1615.80 272.08 1618.30 275.89 1620.80 278.80 C1623.33 281.75 1625.87 284.01 1628.40 287.60 C1630.07 289.96 1631.73 293.26 1633.40 296.40 C1635.07 299.54 1636.73 303.40 1638.40 306.50 C1640.10 309.66 1641.80 312.85 1643.50 315.30 C1645.17 317.70 1646.83 320.27 1648.50 321.50 C1651.00 323.35 1653.50 324.66 1656.00 325.30 C1658.53 325.95 1661.07 326.60 1663.60 326.60 C1665.73 326.60 1667.87 326.56 1670.00 326.50 C1672.10 326.44 1674.20 325.97 1676.30 325.30 C1678.40 324.63 1680.50 321.61 1682.60 319.00 C1685.10 315.89 1687.60 309.85 1690.10 306.40 C1692.60 302.95 1695.10 297.60 1697.60 297.60 C1699.70 297.60 1701.80 300.37 1703.90 302.60 C1706.00 304.83 1708.10 309.56 1710.20 312.70 C1712.30 315.84 1714.40 319.52 1716.50 321.50 C1718.60 323.48 1720.70 326.00 1722.80 326.00 C1724.90 326.00 1727.00 324.37 1729.10 322.80 C1731.17 321.25 1733.23 317.11 1735.30 314.00 C1737.40 310.84 1739.50 308.01 1741.60 303.90 C1743.30 300.57 1745.00 295.70 1746.70 291.30 C1747.93 288.11 1749.17 285.13 1750.40 281.30 C1751.27 278.61 1752.13 274.52 1753.00 272.00 C1754.67 267.16 1756.33 264.26 1758.00 260.20 C1759.67 256.14 1761.33 250.63 1763.00 247.60 C1765.10 243.78 1767.20 241.92 1769.30 238.80 C1771.40 235.68 1773.50 232.04 1775.60 228.80 C1777.27 226.23 1778.93 224.28 1780.60 221.30 C1781.73 219.28 1782.87 215.56 1784.00 214.00 C1786.20 210.97 1788.40 209.13 1790.60 207.70 C1792.70 206.34 1794.80 204.60 1796.90 204.60 C1799.00 204.60 1801.10 206.51 1803.20 209.00 C1804.47 210.50 1805.73 215.25 1807.00 220.00 C1807.83 223.12 1808.67 229.53 1809.50 232.60 C1811.17 238.74 1812.83 244.30 1814.50 246.40 C1816.60 249.05 1818.70 251.40 1820.80 251.40 C1822.90 251.40 1825.00 248.74 1827.10 247.60 C1829.20 246.46 1831.30 244.50 1833.40 244.50 C1835.90 244.50 1838.40 244.78 1840.90 245.10 C1843.40 245.42 1845.90 247.60 1848.40 247.60 C1850.93 247.60 1853.47 245.82 1856.00 245.10 C1859.33 244.15 1862.67 242.92 1866.00 242.60 C1869.37 242.28 1872.73 242.00 1876.10 242.00 C1877.77 242.00 1879.43 244.44 1881.10 246.40 C1882.77 248.36 1884.43 252.09 1886.10 255.20 C1887.37 257.56 1888.63 261.66 1889.90 262.70 C1891.57 264.07 1893.23 265.20 1894.90 265.20 C1897.00 265.20 1899.10 264.40 1901.20 264.00" fill="none" stroke="#f20000" stroke-width="2.6" stroke-linejoin="round"/>
<path d="M1055.00 312.40 C1136.67 312.40 1218.33 312.40 1300.00 312.40 C1303.90 312.40 1307.80 312.14 1311.70 311.80 C1314.47 311.56 1317.23 310.63 1320.00 310.00 C1323.10 309.30 1326.20 308.98 1329.30 307.80 C1330.97 307.17 1332.63 305.56 1334.30 304.00 C1337.20 301.28 1340.10 297.13 1343.00 292.70 C1344.80 289.95 1346.60 285.71 1348.40 283.00 C1349.93 280.69 1351.47 279.19 1353.00 277.00 C1356.17 272.47 1359.33 265.85 1362.50 261.50 C1364.00 259.44 1365.50 258.34 1367.00 256.00 C1369.33 252.36 1371.67 245.16 1374.00 240.00 C1376.33 234.84 1378.67 229.23 1381.00 225.00 C1383.33 220.77 1385.67 216.13 1388.00 214.00 C1389.60 212.54 1391.20 211.39 1392.80 210.80 C1394.53 210.17 1396.27 209.50 1398.00 209.50 C1400.33 209.50 1402.67 209.73 1405.00 210.00 C1408.33 210.39 1411.67 213.21 1415.00 214.00 C1419.00 214.95 1423.00 215.89 1427.00 216.00 C1431.33 216.12 1435.67 216.06 1440.00 216.20 C1443.33 216.30 1446.67 221.18 1450.00 223.60 C1454.13 226.60 1458.27 228.97 1462.40 232.40 C1466.57 235.86 1470.73 240.92 1474.90 244.90 C1478.20 248.06 1481.50 251.75 1484.80 254.00 C1487.87 256.09 1490.93 259.00 1494.00 259.00 C1496.00 259.00 1498.00 258.52 1500.00 258.00 C1502.60 257.32 1505.20 255.06 1507.80 252.70 C1510.20 250.52 1512.60 246.02 1515.00 243.00 C1517.60 239.73 1520.20 236.11 1522.80 233.80 C1525.73 231.20 1528.67 229.17 1531.60 227.60 C1534.53 226.03 1537.47 225.29 1540.40 223.80 C1542.50 222.73 1544.60 221.64 1546.70 220.00 C1548.80 218.36 1550.90 216.00 1553.00 213.00 C1555.50 209.43 1558.00 201.81 1560.50 197.70 C1562.33 194.68 1564.17 191.05 1566.00 190.00 C1567.53 189.12 1569.07 188.30 1570.60 188.30 C1572.07 188.30 1573.53 188.92 1575.00 189.50 C1576.47 190.08 1577.93 190.88 1579.40 192.70 C1580.63 194.23 1581.87 203.02 1583.10 206.50 C1584.80 211.29 1586.50 214.09 1588.20 217.80 C1589.47 220.57 1590.73 224.39 1592.00 226.00 C1594.07 228.62 1596.13 230.18 1598.20 231.30 C1600.30 232.44 1602.40 232.99 1604.50 233.80 C1607.87 235.10 1611.23 236.29 1614.60 237.60 C1616.67 238.41 1618.73 240.10 1620.80 240.10 C1625.00 240.10 1629.20 239.64 1633.40 238.90 C1635.07 238.60 1636.73 237.31 1638.40 236.40 C1641.77 234.55 1645.13 230.10 1648.50 230.10 C1650.60 230.10 1652.70 232.60 1654.80 232.60 C1658.97 232.60 1663.13 230.95 1667.30 230.10 C1669.40 229.67 1671.50 228.80 1673.60 228.80 C1675.77 228.80 1677.93 228.80 1680.10 228.80 C1683.00 228.80 1685.90 232.60 1688.80 232.60 C1692.60 232.60 1696.40 232.01 1700.20 231.30 C1702.27 230.91 1704.33 228.80 1706.40 228.80 C1709.33 228.80 1712.27 229.29 1715.20 230.10 C1717.30 230.68 1719.40 234.21 1721.50 237.60 C1722.77 239.65 1724.03 243.70 1725.30 246.40 C1726.57 249.10 1727.83 251.54 1729.10 253.90 C1730.77 257.01 1732.43 260.25 1734.10 262.70 C1735.77 265.15 1737.43 266.90 1739.10 269.00 C1740.77 271.10 1742.43 273.74 1744.10 275.30 C1745.80 276.89 1747.50 278.32 1749.20 279.10 C1751.13 279.99 1753.07 281.00 1755.00 281.00 C1756.83 281.00 1758.67 280.70 1760.50 280.30 C1762.17 279.93 1763.83 277.71 1765.50 276.50 C1768.67 274.21 1771.83 271.60 1775.00 270.00 C1778.33 268.31 1781.67 267.11 1785.00 266.00 C1787.30 265.23 1789.60 265.04 1791.90 264.00 C1794.00 263.05 1796.10 260.14 1798.20 257.70 C1800.30 255.26 1802.40 249.00 1804.50 249.00 C1806.17 249.00 1807.83 249.52 1809.50 250.20 C1811.33 250.94 1813.17 254.72 1815.00 258.00 C1816.67 260.98 1818.33 266.03 1820.00 270.00 C1821.10 272.62 1822.20 275.48 1823.30 277.80 C1824.57 280.47 1825.83 281.57 1827.10 285.00 C1827.97 287.34 1828.83 293.90 1829.70 296.30 C1830.77 299.26 1831.83 301.45 1832.90 302.70 C1834.27 304.30 1835.63 306.00 1837.00 306.00 C1838.43 306.00 1839.87 304.34 1841.30 302.70 C1842.03 301.86 1842.77 300.20 1843.50 298.50 C1845.13 294.71 1846.77 286.75 1848.40 282.80 C1849.67 279.74 1850.93 277.90 1852.20 275.30 C1853.80 272.02 1855.40 268.39 1857.00 265.00 C1858.77 261.25 1860.53 258.35 1862.30 253.90 C1863.13 251.80 1863.97 249.41 1864.80 246.40 C1865.63 243.39 1866.47 237.80 1867.30 235.10 C1868.13 232.40 1868.97 230.92 1869.80 228.80 C1871.07 225.57 1872.33 222.06 1873.60 219.00 C1875.27 214.97 1876.93 210.01 1878.60 207.70 C1880.27 205.39 1881.93 203.62 1883.60 202.70 C1885.27 201.78 1886.93 200.80 1888.60 200.80 C1890.07 200.80 1891.53 202.41 1893.00 204.00 C1894.07 205.16 1895.13 208.10 1896.20 210.20 C1897.47 212.69 1898.73 216.29 1900.00 217.80 C1900.43 218.32 1900.87 218.60 1901.30 219.00" fill="none" stroke="#f20000" stroke-width="2.6" stroke-dasharray="9.3 8.2" stroke-linejoin="round"/>
<path d="M1055.00 312.40 C1166.67 312.40 1278.33 312.40 1390.00 312.40 C1392.80 312.40 1395.60 312.04 1398.40 311.60 C1401.73 311.08 1405.07 309.16 1408.40 306.50 C1410.93 304.48 1413.47 298.59 1416.00 294.00 C1418.00 290.38 1420.00 286.69 1422.00 282.00 C1423.67 278.09 1425.33 271.91 1427.00 268.00 C1429.00 263.31 1431.00 260.57 1433.00 256.00 C1435.00 251.43 1437.00 245.84 1439.00 240.00 C1441.27 233.39 1443.53 225.54 1445.80 218.00 C1447.27 213.12 1448.73 205.30 1450.20 203.00 C1451.63 200.75 1453.07 198.60 1454.50 198.60 C1455.67 198.60 1456.83 201.80 1458.00 204.00 C1459.47 206.76 1460.93 211.59 1462.40 214.90 C1464.23 219.03 1466.07 221.95 1467.90 226.20 C1470.10 231.30 1472.30 238.97 1474.50 243.90 C1476.00 247.26 1477.50 250.84 1479.00 252.70 C1481.77 256.13 1484.53 259.80 1487.30 259.80 C1489.50 259.80 1491.70 258.54 1493.90 257.70 C1496.43 256.73 1498.97 254.58 1501.50 254.00 C1504.43 253.33 1507.37 252.70 1510.30 252.70 C1511.97 252.70 1513.63 255.17 1515.30 256.50 C1517.80 258.49 1520.30 260.95 1522.80 262.80 C1525.33 264.67 1527.87 267.80 1530.40 267.80 C1532.90 267.80 1535.40 266.31 1537.90 265.30 C1540.40 264.29 1542.90 262.74 1545.40 261.50 C1547.10 260.65 1548.80 259.00 1550.50 259.00 C1552.17 259.00 1553.83 263.43 1555.50 265.30 C1558.00 268.11 1560.50 271.48 1563.00 272.80 C1565.10 273.91 1567.20 274.30 1569.30 275.10 C1571.40 275.90 1573.50 277.60 1575.60 277.60 C1578.10 277.60 1580.60 276.71 1583.10 276.30 C1585.63 275.88 1588.17 275.10 1590.70 275.10 C1591.53 275.10 1592.37 281.32 1593.20 283.80 C1594.87 288.76 1596.53 292.05 1598.20 296.40 C1599.90 300.84 1601.60 305.58 1603.30 310.20 C1604.53 313.55 1605.77 316.65 1607.00 320.30 C1608.27 324.05 1609.53 329.01 1610.80 332.60 C1612.47 337.33 1614.13 341.18 1615.80 345.10 C1617.90 350.03 1620.00 357.77 1622.10 359.00 C1624.40 360.35 1626.70 361.30 1629.00 361.30 C1631.30 361.30 1633.60 356.98 1635.90 353.90 C1637.60 351.62 1639.30 348.25 1641.00 345.10 C1643.07 341.27 1645.13 337.39 1647.20 332.60 C1648.47 329.66 1649.73 326.01 1651.00 322.50 C1651.83 320.19 1652.67 317.86 1653.50 315.30 C1654.77 311.41 1656.03 307.80 1657.30 302.70 C1658.53 297.74 1659.77 290.51 1661.00 283.80 C1661.87 279.09 1662.73 272.84 1663.60 268.80 C1664.43 264.91 1665.27 262.36 1666.10 259.00 C1668.60 248.93 1671.10 236.74 1673.60 227.60 C1674.87 222.97 1676.13 217.55 1677.40 215.00 C1679.13 211.51 1680.87 208.58 1682.60 207.70 C1683.83 207.07 1685.07 206.50 1686.30 206.50 C1687.53 206.50 1688.77 209.76 1690.00 212.00 C1691.67 215.02 1693.33 220.03 1695.00 224.00 C1696.73 228.13 1698.47 232.19 1700.20 236.30 C1701.43 239.23 1702.67 242.00 1703.90 245.10 C1705.17 248.28 1706.43 251.33 1707.70 255.20 C1708.53 257.75 1709.37 261.29 1710.20 264.00 C1712.17 270.41 1714.13 277.81 1716.10 281.50 C1718.80 286.57 1721.50 290.91 1724.20 292.30 C1728.67 294.60 1733.13 294.60 1737.60 296.30 C1740.30 297.33 1743.00 298.43 1745.70 300.30 C1749.30 302.80 1752.90 309.30 1756.50 313.80 C1760.07 318.26 1763.63 322.89 1767.20 327.20 C1769.13 329.53 1771.07 334.00 1773.00 334.00 C1776.40 334.00 1779.80 329.46 1783.20 325.90 C1785.47 323.52 1787.73 318.49 1790.00 316.00 C1792.67 313.07 1795.33 309.00 1798.00 309.00 C1801.53 309.00 1805.07 318.27 1808.60 323.80 C1811.40 328.18 1814.20 337.10 1817.00 338.60 C1819.13 339.74 1821.27 340.70 1823.40 340.70 C1828.33 340.70 1833.27 333.30 1838.20 333.30 C1841.00 333.30 1843.80 336.01 1846.60 338.60 C1849.43 341.22 1852.27 349.46 1855.10 353.40 C1857.20 356.32 1859.30 360.80 1861.40 360.80 C1864.23 360.80 1867.07 354.98 1869.90 349.20 C1872.00 344.92 1874.10 334.85 1876.20 325.90 C1878.30 316.95 1880.40 304.60 1882.50 294.20 C1884.13 286.11 1885.77 275.35 1887.40 270.30 C1888.67 266.38 1889.93 263.60 1891.20 261.50 C1892.87 258.74 1894.53 258.00 1896.20 255.20 C1897.87 252.40 1899.53 246.80 1901.20 242.60" fill="none" stroke="#0593f3" stroke-width="2.4" stroke-dasharray="2.2 2.5" stroke-linejoin="round"/>
<path d="M1055.00 312.40 C1160.00 312.40 1265.00 312.40 1370.00 312.40 C1373.17 312.40 1376.33 312.02 1379.50 311.60 C1383.27 311.10 1387.03 309.75 1390.80 307.80 C1393.33 306.49 1395.87 303.68 1398.40 300.30 C1400.50 297.50 1402.60 292.79 1404.70 287.70 C1406.37 283.66 1408.03 277.27 1409.70 272.60 C1410.97 269.05 1412.23 266.36 1413.50 262.60 C1414.73 258.94 1415.97 253.42 1417.20 250.00 C1418.63 246.02 1420.07 243.07 1421.50 240.00 C1422.67 237.50 1423.83 235.22 1425.00 233.00 C1426.67 229.83 1428.33 226.25 1430.00 224.00 C1431.63 221.79 1433.27 218.70 1434.90 218.70 C1437.07 218.70 1439.23 221.55 1441.40 224.00 C1443.40 226.26 1445.40 230.91 1447.40 234.90 C1448.93 237.96 1450.47 242.42 1452.00 245.00 C1453.80 248.03 1455.60 249.99 1457.40 252.30 C1458.70 253.97 1460.00 255.77 1461.30 257.10 C1463.33 259.18 1465.37 261.70 1467.40 262.30 C1469.90 263.04 1472.40 263.60 1474.90 263.60 C1476.20 263.60 1477.50 261.84 1478.80 261.00 C1480.80 259.72 1482.80 258.95 1484.80 257.30 C1486.53 255.87 1488.27 252.13 1490.00 251.00 C1492.57 249.32 1495.13 248.42 1497.70 247.70 C1501.90 246.53 1506.10 246.15 1510.30 245.20 C1513.63 244.45 1516.97 243.14 1520.30 242.60 C1523.67 242.05 1527.03 241.40 1530.40 241.40 C1532.90 241.40 1535.40 241.95 1537.90 242.60 C1540.40 243.25 1542.90 246.28 1545.40 247.70 C1547.93 249.14 1550.47 250.31 1553.00 251.40 C1556.33 252.83 1559.67 253.57 1563.00 255.20 C1565.53 256.44 1568.07 258.51 1570.60 260.20 C1573.10 261.87 1575.60 263.88 1578.10 265.30 C1580.63 266.74 1583.17 268.35 1585.70 269.00 C1588.20 269.64 1590.70 270.30 1593.20 270.30 C1596.57 270.30 1599.93 270.30 1603.30 270.30 C1605.80 270.30 1608.30 270.30 1610.80 270.30 C1613.30 270.30 1615.80 271.50 1618.30 271.50 C1620.00 271.50 1621.70 269.49 1623.40 267.80 C1625.47 265.75 1627.53 261.23 1629.60 257.70 C1631.70 254.11 1633.80 250.79 1635.90 246.40 C1637.60 242.85 1639.30 238.41 1641.00 233.80 C1642.67 229.28 1644.33 223.77 1646.00 218.80 C1647.67 213.83 1649.33 208.97 1651.00 204.00 C1653.10 197.74 1655.20 190.48 1657.30 185.10 C1658.97 180.83 1660.63 176.45 1662.30 173.80 C1663.87 171.31 1665.43 168.00 1667.00 168.00 C1668.80 168.00 1670.60 168.79 1672.40 170.00 C1673.63 170.83 1674.87 175.92 1676.10 178.80 C1677.73 182.61 1679.37 186.28 1681.00 190.00 C1682.77 194.02 1684.53 197.80 1686.30 202.00 C1688.40 206.99 1690.50 212.75 1692.60 217.80 C1694.07 221.33 1695.53 224.68 1697.00 228.00 C1698.07 230.42 1699.13 233.55 1700.20 235.10 C1702.70 238.73 1705.20 240.26 1707.70 242.60 C1711.07 245.75 1714.43 248.22 1717.80 251.40 C1719.87 253.35 1721.93 255.13 1724.00 257.70 C1726.10 260.31 1728.20 264.93 1730.30 267.80 C1732.40 270.67 1734.50 273.11 1736.60 275.30 C1739.10 277.90 1741.60 282.20 1744.10 282.20 C1746.20 282.20 1748.30 278.93 1750.40 276.50 C1752.93 273.57 1755.47 267.18 1758.00 264.00 C1760.50 260.87 1763.00 256.40 1765.50 256.40 C1767.17 256.40 1768.83 256.69 1770.50 257.10 C1772.20 257.52 1773.90 260.53 1775.60 262.70 C1777.27 264.83 1778.93 268.54 1780.60 270.30 C1782.70 272.52 1784.80 275.30 1786.90 275.30 C1788.97 275.30 1791.03 275.30 1793.10 275.30 C1794.80 275.30 1796.50 271.47 1798.20 269.00 C1800.30 265.95 1802.40 260.03 1804.50 257.70 C1806.57 255.40 1808.63 252.70 1810.70 252.70 C1812.80 252.70 1814.90 256.00 1817.00 257.70 C1819.53 259.75 1822.07 262.64 1824.60 264.00 C1826.67 265.11 1828.73 266.50 1830.80 266.50 C1832.90 266.50 1835.00 264.16 1837.10 262.70 C1839.63 260.94 1842.17 256.40 1844.70 256.40 C1846.80 256.40 1848.90 256.40 1851.00 256.40 C1853.50 256.40 1856.00 260.60 1858.50 262.70 C1861.00 264.80 1863.50 269.00 1866.00 269.00 C1869.37 269.00 1872.73 269.00 1876.10 269.00 C1878.60 269.00 1881.10 267.50 1883.60 266.50 C1886.13 265.49 1888.67 264.15 1891.20 262.70 C1893.70 261.27 1896.20 260.18 1898.70 257.70 C1899.53 256.87 1900.37 255.17 1901.20 253.90" fill="none" stroke="#0593f3" stroke-width="2.6" stroke-linejoin="round"/>
<path d="M1055.00 312.40 C1173.33 312.40 1291.67 312.40 1410.00 312.40 C1412.83 312.40 1415.67 312.04 1418.50 311.60 C1421.83 311.08 1425.17 308.76 1428.50 306.50 C1431.43 304.51 1434.37 301.44 1437.30 297.80 C1439.40 295.20 1441.50 291.08 1443.60 287.70 C1445.70 284.32 1447.80 280.85 1449.90 277.50 C1452.00 274.15 1454.10 270.44 1456.20 267.60 C1458.30 264.76 1460.40 262.62 1462.50 260.10 C1464.60 257.58 1466.70 254.46 1468.80 252.50 C1470.53 250.88 1472.27 249.82 1474.00 248.50 C1476.00 246.98 1478.00 245.31 1480.00 244.00 C1482.97 242.06 1485.93 239.97 1488.90 238.90 C1492.53 237.59 1496.17 237.37 1499.80 236.10 C1501.87 235.38 1503.93 233.80 1506.00 233.00 C1508.67 231.96 1511.33 230.50 1514.00 230.50 C1516.93 230.50 1519.87 233.23 1522.80 233.80 C1526.17 234.45 1529.53 235.10 1532.90 235.10 C1535.83 235.10 1538.77 232.60 1541.70 232.60 C1545.47 232.60 1549.23 232.60 1553.00 232.60 C1556.77 232.60 1560.53 239.95 1564.30 242.60 C1566.40 244.08 1568.50 245.24 1570.60 246.40 C1573.10 247.78 1575.60 249.20 1578.10 250.20 C1580.63 251.21 1583.17 252.70 1585.70 252.70 C1588.20 252.70 1590.70 252.70 1593.20 252.70 C1595.70 252.70 1598.20 252.08 1600.70 251.40 C1604.07 250.48 1607.43 246.49 1610.80 243.90 C1612.90 242.28 1615.00 241.03 1617.10 238.90 C1619.20 236.77 1621.30 233.76 1623.40 230.10 C1625.07 227.20 1626.73 222.64 1628.40 218.80 C1629.93 215.27 1631.47 211.62 1633.00 208.00 C1634.80 203.75 1636.60 199.09 1638.40 195.20 C1639.67 192.47 1640.93 190.32 1642.20 187.60 C1643.47 184.88 1644.73 180.87 1646.00 178.80 C1647.67 176.07 1649.33 174.54 1651.00 172.60 C1653.33 169.89 1655.67 168.19 1658.00 165.00 C1660.67 161.35 1663.33 154.60 1666.00 150.00 C1670.67 141.96 1675.33 132.40 1680.00 128.00 C1686.67 121.72 1693.33 116.62 1700.00 115.00 C1706.67 113.38 1713.33 112.00 1720.00 112.00 C1726.67 112.00 1733.33 115.04 1740.00 118.00 C1746.67 120.96 1753.33 127.29 1760.00 135.00 C1764.00 139.63 1768.00 147.35 1772.00 155.00 C1774.00 158.82 1776.00 163.96 1778.00 168.00 C1780.13 172.31 1782.27 176.90 1784.40 180.10 C1786.07 182.60 1787.73 184.20 1789.40 186.40 C1791.50 189.18 1793.60 192.77 1795.70 195.20 C1797.37 197.13 1799.03 198.17 1800.70 200.20 C1802.80 202.75 1804.90 206.40 1807.00 210.20 C1808.23 212.43 1809.47 215.32 1810.70 217.80 C1812.40 221.21 1814.10 224.51 1815.80 227.80 C1816.63 229.41 1817.47 230.44 1818.30 232.60 C1819.13 234.76 1819.97 240.89 1820.80 242.60 C1822.07 245.20 1823.33 246.02 1824.60 247.60 C1826.40 249.85 1828.20 252.72 1830.00 254.00 C1832.00 255.42 1834.00 257.00 1836.00 257.00 C1839.00 257.00 1842.00 254.18 1845.00 252.00 C1847.00 250.54 1849.00 247.77 1851.00 246.00 C1853.50 243.79 1856.00 242.32 1858.50 240.10 C1860.17 238.62 1861.83 236.15 1863.50 235.10 C1865.00 234.15 1866.50 233.00 1868.00 233.00 C1869.87 233.00 1871.73 233.33 1873.60 233.80 C1875.27 234.22 1876.93 237.65 1878.60 238.80 C1881.10 240.52 1883.60 241.77 1886.10 242.60 C1887.80 243.16 1889.50 243.90 1891.20 243.90 C1892.87 243.90 1894.53 240.10 1896.20 240.10 C1897.87 240.10 1899.53 241.77 1901.20 242.60" fill="none" stroke="#0593f3" stroke-width="2.6" stroke-dasharray="9.3 8.2" stroke-linejoin="round"/>
<line x1="1051.8" y1="399.2" x2="1901.4" y2="399.2" stroke="#555555" stroke-width="1.4"/>
<line x1="1052.3" y1="51.5" x2="1052.3" y2="399.2" stroke="#dedede" stroke-width="1.4"/>
<line x1="1193.8" y1="399.2" x2="1193.8" y2="390.7" stroke="#333" stroke-width="1.4"/>
<line x1="1335.3" y1="399.2" x2="1335.3" y2="390.7" stroke="#333" stroke-width="1.4"/>
<line x1="1476.8" y1="399.2" x2="1476.8" y2="390.7" stroke="#999" stroke-width="1.4"/>
<line x1="1901.4" y1="399.2" x2="1901.4" y2="390.7" stroke="#555" stroke-width="1.4"/>
<line x1="1052.3" y1="138.5" x2="1060.8" y2="138.5" stroke="#999" stroke-width="1.4"/>
<line x1="1052.3" y1="225.4" x2="1060.8" y2="225.4" stroke="#555" stroke-width="1.4"/>
<text x="1043.5" y="407.6" text-anchor="end" font-size="23.5" fill="#262626" style="font-family:'Liberation Sans',Arial,Helvetica,sans-serif">-1</text>
<text x="1043.5" y="320.7" text-anchor="end" font-size="23.5" fill="#262626" style="font-family:'Liberation Sans',Arial,Helvetica,sans-serif">0</text>
<text x="1043.5" y="233.8" text-anchor="end" font-size="23.5" fill="#262626" style="font-family:'Liberation Sans',Arial,Helvetica,sans-serif">1</text>
<text x="1043.5" y="146.9" text-anchor="end" font-size="23.5" fill="#262626" style="font-family:'Liberation Sans',Arial,Helvetica,sans-serif">2</text>
<text x="1043.5" y="60.0" text-anchor="end" font-size="23.5" fill="#262626" style="font-family:'Liberation Sans',Arial,Helvetica,sans-serif">3</text>
<text x="1052.3" y="429.8" text-anchor="middle" font-size="23.5" fill="#262626" style="font-family:'Liberation Sans',Arial,Helvetica,sans-serif">0</text>
<text x="1193.8" y="429.8" text-anchor="middle" font-size="23.5" fill="#262626" style="font-family:'Liberation Sans',Arial,Helvetica,sans-serif">0.5</text>
<text x="1335.3" y="429.8" text-anchor="middle" font-size="23.5" fill="#262626" style="font-family:'Liberation Sans',Arial,Helvetica,sans-serif">1</text>
<text x="1476.8" y="429.8" text-anchor="middle" font-size="23.5" fill="#262626" style="font-family:'Liberation Sans',Arial,Helvetica,sans-serif">1.5</text>
<text x="1618.4" y="429.8" text-anchor="middle" font-size="23.5" fill="#262626" style="font-family:'Liberation Sans',Arial,Helvetica,sans-serif">2</text>
<text x="1759.9" y="429.8" text-anchor="middle" font-size="23.5" fill="#262626" style="font-family:'Liberation Sans',Arial,Helvetica,sans-serif">2.5</text>
<text x="1901.4" y="429.8" text-anchor="middle" font-size="23.5" fill="#262626" style="font-family:'Liberation Sans',Arial,Helvetica,sans-serif">3</text>
<rect x="1659.9" y="57.4" width="235.9" height="113.0" fill="#fff"/>
<line x1="1659.9" y1="57.4" x2="1895.8" y2="57.4" stroke="#9a9a9a" stroke-width="1.3"/>
<line x1="1659.9" y1="170.4" x2="1895.8" y2="170.4" stroke="#e2e2e2" stroke-width="1.3"/>
<line x1="1659.9" y1="57.4" x2="1659.9" y2="170.4" stroke="#dadada" stroke-width="1.3"/>
<line x1="1895.8" y1="57.4" x2="1895.8" y2="170.4" stroke="#9a9a9a" stroke-width="1.3"/>
<line x1="1672.8" y1="77.1" x2="1708.9" y2="77.1" stroke="#000000" stroke-width="2.5" stroke-dasharray="2.4 2.2"/>
<text x="1711.5" y="80.5" font-size="22" fill="#000" style="font-family:'Liberation Sans',Arial,Helvetica,sans-serif">R</text>
<text x="1727.8" y="91.5" font-size="17.5" fill="#000" style="font-family:'Liberation Sans',Arial,Helvetica,sans-serif">1</text>
<line x1="1672.8" y1="113.7" x2="1708.9" y2="113.7" stroke="#000000" stroke-width="2.7"/>
<text x="1711.5" y="117.1" font-size="22" fill="#000" style="font-family:'Liberation Sans',Arial,Helvetica,sans-serif">R</text>
<text x="1727.8" y="128.1" font-size="17.5" fill="#000" style="font-family:'Liberation Sans',Arial,Helvetica,sans-serif">2</text>
<line x1="1672.8" y1="150.2" x2="1708.9" y2="150.2" stroke="#000000" stroke-width="2.6" stroke-dasharray="10 8.5"/>
<text x="1711.5" y="153.6" font-size="22" fill="#000" style="font-family:'Liberation Sans',Arial,Helvetica,sans-serif">R</text>
<text x="1727.8" y="164.6" font-size="17.5" fill="#000" style="font-family:'Liberation Sans',Arial,Helvetica,sans-serif">3</text>
<line x1="1745.4" y1="77.1" x2="1781.6" y2="77.1" stroke="#f20000" stroke-width="2.5" stroke-dasharray="2.4 2.2"/>
<text x="1784.1" y="80.5" font-size="22" fill="#000" style="font-family:'Liberation Sans',Arial,Helvetica,sans-serif">R</text>
<text x="1800.4" y="91.5" font-size="17.5" fill="#000" style="font-family:'Liberation Sans',Arial,Helvetica,sans-serif">4</text>
<line x1="1745.4" y1="113.7" x2="1781.6" y2="113.7" stroke="#f20000" stroke-width="2.7"/>
<text x="1784.1" y="117.1" font-size="22" fill="#000" style="font-family:'Liberation Sans',Arial,Helvetica,sans-serif">R</text>
<text x="1800.4" y="128.1" font-size="17.5" fill="#000" style="font-family:'Liberation Sans',Arial,Helvetica,sans-serif">5</text>
<line x1="1745.4" y1="150.2" x2="1781.6" y2="150.2" stroke="#f20000" stroke-width="2.6" stroke-dasharray="10 8.5"/>
<text x="1784.1" y="153.6" font-size="22" fill="#000" style="font-family:'Liberation Sans',Arial,Helvetica,sans-serif">R</text>
<text x="1800.4" y="164.6" font-size="17.5" fill="#000" style="font-family:'Liberation Sans',Arial,Helvetica,sans-serif">6</text>
<line x1="1817.9" y1="77.1" x2="1854.0" y2="77.1" stroke="#0593f3" stroke-width="2.5" stroke-dasharray="2.4 2.2"/>
<text x="1856.7" y="80.5" font-size="22" fill="#000" style="font-family:'Liberation Sans',Arial,Helvetica,sans-serif">R</text>
<text x="1873.0" y="91.5" font-size="17.5" fill="#000" style="font-family:'Liberation Sans',Arial,Helvetica,sans-serif">7</text>
<line x1="1817.9" y1="113.7" x2="1854.0" y2="113.7" stroke="#0593f3" stroke-width="2.7"/>
<text x="1856.7" y="117.1" font-size="22" fill="#000" style="font-family:'Liberation Sans',Arial,Helvetica,sans-serif">R</text>
<text x="1873.0" y="128.1" font-size="17.5" fill="#000" style="font-family:'Liberation Sans',Arial,Helvetica,sans-serif">8</text>
<line x1="1817.9" y1="150.2" x2="1854.0" y2="150.2" stroke="#0593f3" stroke-width="2.6" stroke-dasharray="10 8.5"/>
<text x="1856.7" y="153.6" font-size="22" fill="#000" style="font-family:'Liberation Sans',Arial,Helvetica,sans-serif">R</text>
<text x="1873.0" y="164.6" font-size="17.5" fill="#000" style="font-family:'Liberation Sans',Arial,Helvetica,sans-serif">9</text>
<text x="73.8" y="29.5" font-size="23.5" fill="#262626" style="font-family:'DejaVu Sans Light','DejaVu Sans',sans-serif">&#215;</text>
<text x="94.7" y="28.5" font-size="23.5" fill="#262626" style="font-family:'Liberation Sans',Arial,Helvetica,sans-serif">10</text>
<text x="120.8" y="16.6" font-size="18.5" fill="#262626" style="font-family:'Liberation Sans',Arial,Helvetica,sans-serif">-8</text>
<text x="887.0" y="468.0" font-size="23.5" fill="#262626" style="font-family:'DejaVu Sans Light','DejaVu Sans',sans-serif">&#215;</text>
<text x="907.8" y="467.0" font-size="23.5" fill="#262626" style="font-family:'Liberation Sans',Arial,Helvetica,sans-serif">10</text>
<text x="933.9" y="455.1" font-size="18.5" fill="#262626" style="font-family:'Liberation Sans',Arial,Helvetica,sans-serif">-6</text>
<text x="1052.1" y="47.0" font-size="23.5" fill="#262626" style="font-family:'DejaVu Sans Light','DejaVu Sans',sans-serif">&#215;</text>
<text x="1072.9" y="46.0" font-size="23.5" fill="#262626" style="font-family:'Liberation Sans',Arial,Helvetica,sans-serif">10</text>
<text x="1099.0" y="34.1" font-size="18.5" fill="#262626" style="font-family:'Liberation Sans',Arial,Helvetica,sans-serif">-8</text>
<text x="1837.5" y="467.7" font-size="23.5" fill="#262626" style="font-family:'DejaVu Sans Light','DejaVu Sans',sans-serif">&#215;</text>
<text x="1858.3" y="466.7" font-size="23.5" fill="#262626" style="font-family:'Liberation Sans',Arial,Helvetica,sans-serif">10</text>
<text x="1884.4" y="454.8" font-size="18.5" fill="#262626" style="font-family:'Liberation Sans',Arial,Helvetica,sans-serif">-6</text>
<text x="485.5" y="461.4" font-size="26.8" fill="#262626" style="font-family:'Liberation Sans',Arial,Helvetica,sans-serif">T (s)</text>
<text x="1449.7" y="461.0" font-size="26.8" fill="#262626" style="font-family:'Liberation Sans',Arial,Helvetica,sans-serif">T (s)</text>
<g transform="translate(22.8,253.7) rotate(-90)" fill="#262626" style="font-family:'Liberation Sans',Arial,Helvetica,sans-serif"><text x="0" y="0" font-size="26.4">u</text><text x="15.9" y="13.1" font-size="20">x</text><text x="33.4" y="0" font-size="26.4">(m)</text></g>
<g transform="translate(1001.3,261.7) rotate(-90)" fill="#262626" style="font-family:'Liberation Sans',Arial,Helvetica,sans-serif"><text x="0" y="0" font-size="26.4">u</text><text x="15.9" y="13.1" font-size="20">x</text><text x="33.4" y="0" font-size="26.4">(m)</text></g>
<text x="500.2" y="509.7" font-size="32" fill="#000" style="font-family:'Liberation Serif','Times New Roman',serif">(a)</text>
<text x="1470.3" y="510.8" font-size="32" fill="#000" style="font-family:'Liberation Serif','Times New Roman',serif">(b)</text>
<g>
<rect x="1308.4" y="205.7" width="79" height="39.2" fill="#f7f8fc" stroke="#d4d4d8" stroke-width="1"/>
<circle cx="1307" cy="247" r="4.2" fill="#f4f1d8" opacity="0.9"/>
<rect x="1305.2" y="245.2" width="3.8" height="3.8" fill="#1a1a1a"/>
<text x="1314.2" y="222.6" font-size="12.3" fill="#5a5a5a" style="font-family:'Liberation Sans',Arial,sans-serif">X</text>
<text x="1326.2" y="222.6" font-size="12.3" font-weight="bold" fill="#1e8ff0" style="font-family:'Liberation Sans',Arial,sans-serif">9e-07</text>
<text x="1314.2" y="236.5" font-size="12.3" fill="#5a5a5a" style="font-family:'Liberation Sans',Arial,sans-serif">Y</text>
<text x="1326.2" y="236.5" font-size="12.3" font-weight="bold" fill="#1e8ff0" style="font-family:'Liberation Sans',Arial,sans-serif">7.512e-09</text>
</g>

</svg>
</body></html>
